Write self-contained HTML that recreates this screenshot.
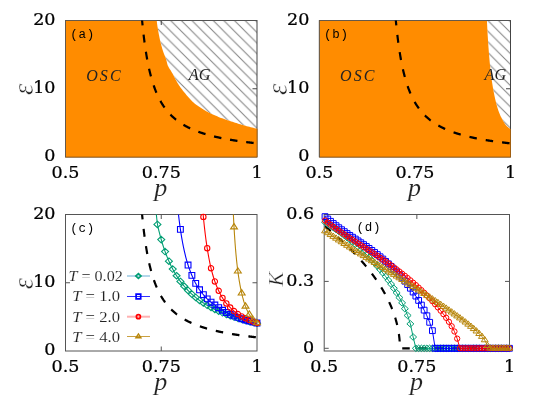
<!DOCTYPE html>
<html><head><meta charset="utf-8"><title>figure</title>
<style>html,body{margin:0;padding:0;background:#fff}svg{display:block}</style></head>
<body>
<svg width="545" height="399" viewBox="0 0 545 399">
<defs>
<clipPath id="ca"><rect x="65.5" y="20.5" width="191.5" height="136.5"/></clipPath>
<clipPath id="cb"><rect x="319.4" y="20.5" width="191.10000000000002" height="136.5"/></clipPath>
<clipPath id="cc"><rect x="65.5" y="214.5" width="191.5" height="136.5"/></clipPath>
<clipPath id="cd"><rect x="324.2" y="214.5" width="185.3" height="136.5"/></clipPath>
<pattern id="hatcha" patternUnits="userSpaceOnUse" width="10.63" height="10.63" x="1.31" y="0"><path d="M-1 -1 L11.63 11.63 M-11.63 -1 L1 11.63 M9.63 -1 L22.26 11.63" stroke="#858585" stroke-width="1.05" fill="none"/></pattern>
<pattern id="hatchb" patternUnits="userSpaceOnUse" width="10.63" height="10.63" x="10.21" y="0"><path d="M-1 -1 L11.63 11.63 M-11.63 -1 L1 11.63 M9.63 -1 L22.26 11.63" stroke="#858585" stroke-width="1.05" fill="none"/></pattern>
</defs>
<rect width="545" height="399" fill="#fff"/>
<rect x="65.5" y="20.5" width="191.5" height="136.5" fill="#fff"/>
<path d="M156.70 20.50 L156.85 21.85 L157.02 23.20 L157.20 24.55 L157.39 25.90 L157.59 27.24 L157.81 28.58 L158.03 29.92 L158.26 31.25 L158.51 32.59 L158.76 33.92 L159.02 35.25 L159.28 36.57 L159.56 37.90 L159.83 39.22 L160.12 40.54 L160.42 41.86 L160.74 43.18 L161.08 44.49 L161.43 45.80 L161.80 47.11 L162.19 48.41 L162.58 49.71 L162.98 51.01 L163.40 52.29 L163.85 53.57 L164.34 54.83 L164.86 56.09 L165.36 57.35 L165.84 58.62 L166.27 59.90 L166.63 61.21 L166.93 62.55 L167.25 63.87 L167.65 65.14 L168.18 66.36 L168.81 67.55 L169.52 68.71 L170.26 69.87 L171.01 71.02 L171.72 72.19 L172.38 73.37 L173.03 74.57 L173.67 75.77 L174.29 76.98 L174.92 78.19 L175.56 79.39 L176.20 80.59 L176.85 81.77 L177.53 82.95 L178.22 84.10 L178.95 85.23 L179.70 86.34 L180.48 87.45 L181.28 88.54 L182.10 89.62 L182.93 90.70 L183.78 91.76 L184.65 92.82 L185.52 93.86 L186.41 94.89 L187.30 95.92 L188.20 96.93 L189.10 97.94 L190.02 98.94 L190.95 99.94 L191.89 100.92 L192.86 101.88 L193.85 102.81 L194.86 103.69 L195.91 104.52 L196.99 105.33 L198.09 106.10 L199.22 106.86 L200.37 107.60 L201.53 108.32 L202.69 109.03 L203.85 109.74 L205.01 110.45 L206.17 111.15 L207.35 111.82 L208.55 112.44 L209.76 113.05 L210.98 113.63 L212.21 114.21 L213.45 114.77 L214.70 115.32 L215.94 115.85 L217.20 116.37 L218.45 116.88 L219.71 117.39 L220.97 117.88 L222.24 118.36 L223.51 118.82 L224.79 119.28 L226.07 119.73 L227.35 120.17 L228.64 120.60 L229.93 121.03 L231.21 121.45 L232.50 121.87 L233.79 122.29 L235.08 122.70 L236.38 123.11 L237.67 123.51 L238.97 123.91 L240.26 124.30 L241.56 124.69 L242.87 125.07 L244.17 125.44 L245.47 125.80 L246.78 126.16 L248.09 126.51 L249.40 126.86 L250.71 127.20 L252.03 127.53 L253.34 127.86 L254.66 128.18 L255.98 128.49 L257.30 128.80 L257.00 20.50 Z" fill="url(#hatcha)" clip-path="url(#ca)"/>
<rect x="65.5" y="20.5" width="191.5" height="136.5" fill="none" stroke="#444" stroke-width="1"/>
<path d="M161.25 157.0 v-4.5 M161.25 20.5 v4.5 M65.5 88.75 h4.5 M257.0 88.75 h-4.5 " stroke="#444" stroke-width="1" fill="none"/>
<path d="M65.50 20.50 L156.70 20.50 L156.85 21.85 L157.02 23.20 L157.20 24.55 L157.39 25.90 L157.59 27.24 L157.81 28.58 L158.03 29.92 L158.26 31.25 L158.51 32.59 L158.76 33.92 L159.02 35.25 L159.28 36.57 L159.56 37.90 L159.83 39.22 L160.12 40.54 L160.42 41.86 L160.74 43.18 L161.08 44.49 L161.43 45.80 L161.80 47.11 L162.19 48.41 L162.58 49.71 L162.98 51.01 L163.40 52.29 L163.85 53.57 L164.34 54.83 L164.86 56.09 L165.36 57.35 L165.84 58.62 L166.27 59.90 L166.63 61.21 L166.93 62.55 L167.25 63.87 L167.65 65.14 L168.18 66.36 L168.81 67.55 L169.52 68.71 L170.26 69.87 L171.01 71.02 L171.72 72.19 L172.38 73.37 L173.03 74.57 L173.67 75.77 L174.29 76.98 L174.92 78.19 L175.56 79.39 L176.20 80.59 L176.85 81.77 L177.53 82.95 L178.22 84.10 L178.95 85.23 L179.70 86.34 L180.48 87.45 L181.28 88.54 L182.10 89.62 L182.93 90.70 L183.78 91.76 L184.65 92.82 L185.52 93.86 L186.41 94.89 L187.30 95.92 L188.20 96.93 L189.10 97.94 L190.02 98.94 L190.95 99.94 L191.89 100.92 L192.86 101.88 L193.85 102.81 L194.86 103.69 L195.91 104.52 L196.99 105.33 L198.09 106.10 L199.22 106.86 L200.37 107.60 L201.53 108.32 L202.69 109.03 L203.85 109.74 L205.01 110.45 L206.17 111.15 L207.35 111.82 L208.55 112.44 L209.76 113.05 L210.98 113.63 L212.21 114.21 L213.45 114.77 L214.70 115.32 L215.94 115.85 L217.20 116.37 L218.45 116.88 L219.71 117.39 L220.97 117.88 L222.24 118.36 L223.51 118.82 L224.79 119.28 L226.07 119.73 L227.35 120.17 L228.64 120.60 L229.93 121.03 L231.21 121.45 L232.50 121.87 L233.79 122.29 L235.08 122.70 L236.38 123.11 L237.67 123.51 L238.97 123.91 L240.26 124.30 L241.56 124.69 L242.87 125.07 L244.17 125.44 L245.47 125.80 L246.78 126.16 L248.09 126.51 L249.40 126.86 L250.71 127.20 L252.03 127.53 L253.34 127.86 L254.66 128.18 L255.98 128.49 L257.30 128.80 L257.30 128.80 L257.30 157.30 L65.50 157.30 Z" fill="#ff8c00"/>
<path d="M65.5 157.0 V20.5 H257.0" fill="none" stroke="#555" stroke-width="0.8"/>
<path d="M65.5 157.0 H257.0 V128.8" fill="none" stroke="#7a4a10" stroke-width="0.6"/>
<g clip-path="url(#ca)"><path transform="scale(1 1.06)" d="M141.91 17.38 L142.20 20.31 L142.49 23.11 L142.77 25.80 L143.06 28.37 L143.35 30.83 L143.64 33.19 L143.93 35.47 L144.22 37.65 L144.50 39.75 L144.79 41.77 L145.08 43.72 L145.37 45.60 L145.66 47.41 L145.95 49.16 L146.24 50.85 L146.52 52.48 L146.81 54.06 L147.10 55.58 L147.39 57.06 L147.68 58.49 L147.97 59.88 L148.25 61.23 L148.54 62.53 L148.83 63.80 L149.12 65.03 L149.41 66.22 L149.70 67.38 L149.99 68.51 L150.27 69.60 L150.56 70.67 L150.85 71.71 L151.14 72.72 L151.43 73.70 L151.72 74.66 L152.00 75.60 L152.29 76.51 L152.58 77.40 L152.87 78.26 L153.16 79.11 L153.45 79.93 L153.73 80.74 L154.02 81.53 L154.31 82.30 L154.60 83.05 L154.89 83.78 L155.18 84.50 L155.47 85.20 L155.75 85.89 L156.04 86.56 L156.33 87.22 L156.62 87.86 L156.91 88.49 L157.20 89.11 L157.48 89.71 L157.77 90.31 L158.06 90.89 L158.35 91.46 L158.64 92.01 L158.93 92.56 L159.22 93.10 L159.50 93.62 L159.79 94.14 L160.08 94.65 L160.37 95.14 L160.66 95.63 L160.95 96.11 L161.23 96.58 L161.52 97.04 L161.81 97.49 L162.10 97.94 L162.39 98.38 L162.68 98.81 L162.97 99.23 L163.25 99.65 L163.54 100.06 L163.83 100.46 L164.12 100.85 L164.41 101.24 L164.70 101.62 L164.98 102.00 L165.27 102.37 L165.56 102.73 L165.85 103.09 L166.14 103.45 L166.43 103.79 L166.72 104.13 L167.00 104.47 L167.29 104.80 L167.58 105.13 L167.87 105.45 L168.16 105.77 L168.45 106.08 L168.73 106.39 L169.02 106.69 L169.31 106.99 L169.60 107.28 L169.89 107.58 L170.18 107.86 L170.47 108.14 L170.75 108.42 L171.04 108.70 L171.33 108.97 L171.62 109.23 L171.91 109.50 L172.20 109.76 L172.48 110.01 L172.77 110.27 L173.06 110.52 L173.35 110.76 L173.64 111.01 L173.93 111.25 L174.21 111.48 L174.50 111.72 L174.79 111.95 L175.08 112.18 L175.37 112.40 L175.66 112.62 L175.95 112.84 L176.23 113.06 L176.52 113.27 L176.81 113.49 L177.10 113.70 L177.39 113.90 L177.68 114.11 L177.96 114.31 L178.25 114.51 L178.54 114.70 L178.83 114.90 L179.12 115.09 L179.41 115.28 L179.70 115.47 L179.98 115.66 L180.27 115.84 L180.56 116.02 L180.85 116.20 L181.14 116.38 L181.43 116.55 L181.71 116.73 L182.00 116.90 L182.29 117.07 L182.58 117.24 L182.87 117.40 L183.16 117.57 L183.45 117.73 L183.73 117.89 L184.02 118.05 L184.31 118.21 L184.60 118.37 L184.89 118.52 L185.18 118.67 L185.46 118.82 L185.75 118.97 L186.04 119.12 L186.33 119.27 L186.62 119.41 L186.91 119.56 L187.20 119.70 L187.48 119.84 L187.77 119.98 L188.06 120.12 L188.35 120.26 L188.64 120.39 L188.93 120.53 L189.21 120.66 L189.50 120.79 L189.79 120.92 L190.08 121.05 L190.37 121.18 L190.66 121.30 L190.94 121.43 L191.23 121.55 L191.52 121.68 L191.81 121.80 L192.10 121.92 L192.39 122.04 L192.68 122.16 L192.96 122.28 L193.25 122.39 L193.54 122.51 L193.83 122.62 L194.12 122.74 L194.41 122.85 L194.69 122.96 L194.98 123.07 L195.27 123.18 L195.56 123.29 L195.85 123.40 L196.14 123.50 L196.43 123.61 L196.71 123.71 L197.00 123.82 L197.29 123.92 L197.58 124.02 L197.87 124.13 L198.16 124.23 L198.44 124.33 L198.73 124.42 L199.02 124.52 L199.31 124.62 L199.60 124.72 L199.89 124.81 L200.18 124.91 L200.46 125.00 L200.75 125.09 L201.04 125.19 L201.33 125.28 L201.62 125.37 L201.91 125.46 L202.19 125.55 L202.48 125.64 L202.77 125.73 L203.06 125.81 L203.35 125.90 L203.64 125.99 L203.93 126.07 L204.21 126.16 L204.50 126.24 L204.79 126.33 L205.08 126.41 L205.37 126.49 L205.66 126.57 L205.94 126.65 L206.23 126.73 L206.52 126.81 L206.81 126.89 L207.10 126.97 L207.39 127.05 L207.68 127.13 L207.96 127.21 L208.25 127.28 L208.54 127.36 L208.83 127.43 L209.12 127.51 L209.41 127.58 L209.69 127.66 L209.98 127.73 L210.27 127.80 L210.56 127.87 L210.85 127.94 L211.14 128.02 L211.42 128.09 L211.71 128.16 L212.00 128.23 L212.29 128.30 L212.58 128.36 L212.87 128.43 L213.16 128.50 L213.44 128.57 L213.73 128.63 L214.02 128.70 L214.31 128.77 L214.60 128.83 L214.89 128.90 L215.17 128.96 L215.46 129.03 L215.75 129.09 L216.04 129.15 L216.33 129.22 L216.62 129.28 L216.91 129.34 L217.19 129.40 L217.48 129.46 L217.77 129.52 L218.06 129.58 L218.35 129.64 L218.64 129.70 L218.92 129.76 L219.21 129.82 L219.50 129.88 L219.79 129.94 L220.08 130.00 L220.37 130.05 L220.66 130.11 L220.94 130.17 L221.23 130.22 L221.52 130.28 L221.81 130.34 L222.10 130.39 L222.39 130.45 L222.67 130.50 L222.96 130.55 L223.25 130.61 L223.54 130.66 L223.83 130.72 L224.12 130.77 L224.41 130.82 L224.69 130.87 L224.98 130.93 L225.27 130.98 L225.56 131.03 L225.85 131.08 L226.14 131.13 L226.42 131.18 L226.71 131.23 L227.00 131.28 L227.29 131.33 L227.58 131.38 L227.87 131.43 L228.16 131.48 L228.44 131.53 L228.73 131.57 L229.02 131.62 L229.31 131.67 L229.60 131.72 L229.89 131.76 L230.17 131.81 L230.46 131.86 L230.75 131.90 L231.04 131.95 L231.33 131.99 L231.62 132.04 L231.90 132.09 L232.19 132.13 L232.48 132.17 L232.77 132.22 L233.06 132.26 L233.35 132.31 L233.64 132.35 L233.92 132.39 L234.21 132.44 L234.50 132.48 L234.79 132.52 L235.08 132.57 L235.37 132.61 L235.65 132.65 L235.94 132.69 L236.23 132.73 L236.52 132.78 L236.81 132.82 L237.10 132.86 L237.39 132.90 L237.67 132.94 L237.96 132.98 L238.25 133.02 L238.54 133.06 L238.83 133.10 L239.12 133.14 L239.40 133.18 L239.69 133.22 L239.98 133.26 L240.27 133.29 L240.56 133.33 L240.85 133.37 L241.14 133.41 L241.42 133.45 L241.71 133.48 L242.00 133.52 L242.29 133.56 L242.58 133.60 L242.87 133.63 L243.15 133.67 L243.44 133.71 L243.73 133.74 L244.02 133.78 L244.31 133.81 L244.60 133.85 L244.89 133.89 L245.17 133.92 L245.46 133.96 L245.75 133.99 L246.04 134.03 L246.33 134.06 L246.62 134.10 L246.90 134.13 L247.19 134.16 L247.48 134.20 L247.77 134.23 L248.06 134.27 L248.35 134.30 L248.63 134.33 L248.92 134.37 L249.21 134.40 L249.50 134.43 L249.79 134.46 L250.08 134.50 L250.37 134.53 L250.65 134.56 L250.94 134.59 L251.23 134.63 L251.52 134.66 L251.81 134.69 L252.10 134.72 L252.38 134.75 L252.67 134.78 L252.96 134.82 L253.25 134.85 L253.54 134.88 L253.83 134.91 L254.12 134.94 L254.40 134.97 L254.69 135.00 L254.98 135.03 L255.27 135.06 L255.56 135.09 L255.85 135.12 L256.13 135.15 L256.42 135.18 L256.71 135.21 L257.00 135.24" fill="none" stroke="#000" stroke-width="2.2" stroke-dasharray="7.5 8.8" stroke-dashoffset="0.9"/></g>
<rect x="319.4" y="20.5" width="191.10000000000002" height="136.5" fill="#fff"/>
<path d="M486.92 20.50 L487.32 28.48 L487.72 35.68 L488.12 42.04 L488.52 47.80 L488.92 53.04 L489.32 57.83 L489.72 62.22 L490.12 66.27 L490.52 70.01 L490.92 73.47 L491.31 76.69 L491.71 79.68 L492.11 82.48 L492.51 85.09 L492.91 87.54 L493.31 89.84 L493.71 92.01 L494.11 94.06 L494.51 96.00 L494.91 97.84 L495.31 99.59 L495.71 101.26 L496.11 102.87 L496.51 104.40 L496.91 105.86 L497.31 107.24 L497.71 108.55 L498.11 109.79 L498.51 110.96 L498.91 112.06 L499.31 113.10 L499.71 114.08 L500.11 115.01 L500.51 115.90 L500.91 116.75 L501.31 117.56 L501.71 118.34 L502.11 119.09 L502.51 119.81 L502.91 120.51 L503.31 121.20 L503.71 121.88 L504.10 122.54 L504.50 123.17 L504.90 123.78 L505.30 124.35 L505.70 124.89 L506.10 125.38 L506.50 125.84 L506.90 126.25 L507.30 126.63 L507.70 127.00 L508.10 127.34 L508.50 127.67 L508.90 127.98 L509.30 128.27 L509.70 128.54 L510.10 128.79 L510.50 129.02 L510.50 20.50 Z" fill="url(#hatchb)" clip-path="url(#cb)"/>
<rect x="319.4" y="20.5" width="191.10000000000002" height="136.5" fill="none" stroke="#444" stroke-width="1"/>
<path d="M414.95 157.0 v-4.5 M414.95 20.5 v4.5 M319.4 88.75 h4.5 M510.5 88.75 h-4.5 " stroke="#444" stroke-width="1" fill="none"/>
<path d="M319.40 20.50 L486.92 20.50 L487.32 28.48 L487.72 35.68 L488.12 42.04 L488.52 47.80 L488.92 53.04 L489.32 57.83 L489.72 62.22 L490.12 66.27 L490.52 70.01 L490.92 73.47 L491.31 76.69 L491.71 79.68 L492.11 82.48 L492.51 85.09 L492.91 87.54 L493.31 89.84 L493.71 92.01 L494.11 94.06 L494.51 96.00 L494.91 97.84 L495.31 99.59 L495.71 101.26 L496.11 102.87 L496.51 104.40 L496.91 105.86 L497.31 107.24 L497.71 108.55 L498.11 109.79 L498.51 110.96 L498.91 112.06 L499.31 113.10 L499.71 114.08 L500.11 115.01 L500.51 115.90 L500.91 116.75 L501.31 117.56 L501.71 118.34 L502.11 119.09 L502.51 119.81 L502.91 120.51 L503.31 121.20 L503.71 121.88 L504.10 122.54 L504.50 123.17 L504.90 123.78 L505.30 124.35 L505.70 124.89 L506.10 125.38 L506.50 125.84 L506.90 126.25 L507.30 126.63 L507.70 127.00 L508.10 127.34 L508.50 127.67 L508.90 127.98 L509.30 128.27 L509.70 128.54 L510.10 128.79 L510.50 129.02 L510.80 129.02 L510.80 157.30 L319.40 157.30 Z" fill="#ff8c00"/>
<path d="M319.4 157.0 V20.5 H510.5" fill="none" stroke="#555" stroke-width="0.8"/>
<path d="M319.4 157.0 H510.5 V129.0" fill="none" stroke="#7a4a10" stroke-width="0.6"/>
<g clip-path="url(#cb)"><path transform="scale(1 1.06)" d="M395.65 17.38 L395.94 20.31 L396.22 23.11 L396.51 25.80 L396.80 28.37 L397.09 30.83 L397.38 33.19 L397.66 35.47 L397.95 37.65 L398.24 39.75 L398.53 41.77 L398.82 43.72 L399.10 45.60 L399.39 47.41 L399.68 49.16 L399.97 50.85 L400.25 52.48 L400.54 54.06 L400.83 55.58 L401.12 57.06 L401.41 58.49 L401.69 59.88 L401.98 61.23 L402.27 62.53 L402.56 63.80 L402.85 65.03 L403.13 66.22 L403.42 67.38 L403.71 68.51 L404.00 69.60 L404.28 70.67 L404.57 71.71 L404.86 72.72 L405.15 73.70 L405.44 74.66 L405.72 75.60 L406.01 76.51 L406.30 77.40 L406.59 78.26 L406.87 79.11 L407.16 79.93 L407.45 80.74 L407.74 81.53 L408.03 82.30 L408.31 83.05 L408.60 83.78 L408.89 84.50 L409.18 85.20 L409.47 85.89 L409.75 86.56 L410.04 87.22 L410.33 87.86 L410.62 88.49 L410.90 89.11 L411.19 89.71 L411.48 90.31 L411.77 90.89 L412.06 91.46 L412.34 92.01 L412.63 92.56 L412.92 93.10 L413.21 93.62 L413.50 94.14 L413.78 94.65 L414.07 95.14 L414.36 95.63 L414.65 96.11 L414.93 96.58 L415.22 97.04 L415.51 97.49 L415.80 97.94 L416.09 98.38 L416.37 98.81 L416.66 99.23 L416.95 99.65 L417.24 100.06 L417.53 100.46 L417.81 100.85 L418.10 101.24 L418.39 101.62 L418.68 102.00 L418.96 102.37 L419.25 102.73 L419.54 103.09 L419.83 103.45 L420.12 103.79 L420.40 104.13 L420.69 104.47 L420.98 104.80 L421.27 105.13 L421.56 105.45 L421.84 105.77 L422.13 106.08 L422.42 106.39 L422.71 106.69 L422.99 106.99 L423.28 107.28 L423.57 107.58 L423.86 107.86 L424.15 108.14 L424.43 108.42 L424.72 108.70 L425.01 108.97 L425.30 109.23 L425.59 109.50 L425.87 109.76 L426.16 110.01 L426.45 110.27 L426.74 110.52 L427.02 110.76 L427.31 111.01 L427.60 111.25 L427.89 111.48 L428.18 111.72 L428.46 111.95 L428.75 112.18 L429.04 112.40 L429.33 112.62 L429.61 112.84 L429.90 113.06 L430.19 113.27 L430.48 113.49 L430.77 113.70 L431.05 113.90 L431.34 114.11 L431.63 114.31 L431.92 114.51 L432.21 114.70 L432.49 114.90 L432.78 115.09 L433.07 115.28 L433.36 115.47 L433.64 115.66 L433.93 115.84 L434.22 116.02 L434.51 116.20 L434.80 116.38 L435.08 116.55 L435.37 116.73 L435.66 116.90 L435.95 117.07 L436.24 117.24 L436.52 117.40 L436.81 117.57 L437.10 117.73 L437.39 117.89 L437.67 118.05 L437.96 118.21 L438.25 118.37 L438.54 118.52 L438.83 118.67 L439.11 118.82 L439.40 118.97 L439.69 119.12 L439.98 119.27 L440.27 119.41 L440.55 119.56 L440.84 119.70 L441.13 119.84 L441.42 119.98 L441.70 120.12 L441.99 120.26 L442.28 120.39 L442.57 120.53 L442.86 120.66 L443.14 120.79 L443.43 120.92 L443.72 121.05 L444.01 121.18 L444.30 121.30 L444.58 121.43 L444.87 121.55 L445.16 121.68 L445.45 121.80 L445.73 121.92 L446.02 122.04 L446.31 122.16 L446.60 122.28 L446.89 122.39 L447.17 122.51 L447.46 122.62 L447.75 122.74 L448.04 122.85 L448.32 122.96 L448.61 123.07 L448.90 123.18 L449.19 123.29 L449.48 123.40 L449.76 123.50 L450.05 123.61 L450.34 123.71 L450.63 123.82 L450.92 123.92 L451.20 124.02 L451.49 124.13 L451.78 124.23 L452.07 124.33 L452.35 124.42 L452.64 124.52 L452.93 124.62 L453.22 124.72 L453.51 124.81 L453.79 124.91 L454.08 125.00 L454.37 125.09 L454.66 125.19 L454.95 125.28 L455.23 125.37 L455.52 125.46 L455.81 125.55 L456.10 125.64 L456.38 125.73 L456.67 125.81 L456.96 125.90 L457.25 125.99 L457.54 126.07 L457.82 126.16 L458.11 126.24 L458.40 126.33 L458.69 126.41 L458.98 126.49 L459.26 126.57 L459.55 126.65 L459.84 126.73 L460.13 126.81 L460.41 126.89 L460.70 126.97 L460.99 127.05 L461.28 127.13 L461.57 127.21 L461.85 127.28 L462.14 127.36 L462.43 127.43 L462.72 127.51 L463.01 127.58 L463.29 127.66 L463.58 127.73 L463.87 127.80 L464.16 127.87 L464.44 127.94 L464.73 128.02 L465.02 128.09 L465.31 128.16 L465.60 128.23 L465.88 128.30 L466.17 128.36 L466.46 128.43 L466.75 128.50 L467.04 128.57 L467.32 128.63 L467.61 128.70 L467.90 128.77 L468.19 128.83 L468.47 128.90 L468.76 128.96 L469.05 129.03 L469.34 129.09 L469.63 129.15 L469.91 129.22 L470.20 129.28 L470.49 129.34 L470.78 129.40 L471.06 129.46 L471.35 129.52 L471.64 129.58 L471.93 129.64 L472.22 129.70 L472.50 129.76 L472.79 129.82 L473.08 129.88 L473.37 129.94 L473.66 130.00 L473.94 130.05 L474.23 130.11 L474.52 130.17 L474.81 130.22 L475.09 130.28 L475.38 130.34 L475.67 130.39 L475.96 130.45 L476.25 130.50 L476.53 130.55 L476.82 130.61 L477.11 130.66 L477.40 130.72 L477.69 130.77 L477.97 130.82 L478.26 130.87 L478.55 130.93 L478.84 130.98 L479.12 131.03 L479.41 131.08 L479.70 131.13 L479.99 131.18 L480.28 131.23 L480.56 131.28 L480.85 131.33 L481.14 131.38 L481.43 131.43 L481.72 131.48 L482.00 131.53 L482.29 131.57 L482.58 131.62 L482.87 131.67 L483.15 131.72 L483.44 131.76 L483.73 131.81 L484.02 131.86 L484.31 131.90 L484.59 131.95 L484.88 131.99 L485.17 132.04 L485.46 132.09 L485.75 132.13 L486.03 132.17 L486.32 132.22 L486.61 132.26 L486.90 132.31 L487.18 132.35 L487.47 132.39 L487.76 132.44 L488.05 132.48 L488.34 132.52 L488.62 132.57 L488.91 132.61 L489.20 132.65 L489.49 132.69 L489.77 132.73 L490.06 132.78 L490.35 132.82 L490.64 132.86 L490.93 132.90 L491.21 132.94 L491.50 132.98 L491.79 133.02 L492.08 133.06 L492.37 133.10 L492.65 133.14 L492.94 133.18 L493.23 133.22 L493.52 133.26 L493.80 133.29 L494.09 133.33 L494.38 133.37 L494.67 133.41 L494.96 133.45 L495.24 133.48 L495.53 133.52 L495.82 133.56 L496.11 133.60 L496.40 133.63 L496.68 133.67 L496.97 133.71 L497.26 133.74 L497.55 133.78 L497.83 133.81 L498.12 133.85 L498.41 133.89 L498.70 133.92 L498.99 133.96 L499.27 133.99 L499.56 134.03 L499.85 134.06 L500.14 134.10 L500.43 134.13 L500.71 134.16 L501.00 134.20 L501.29 134.23 L501.58 134.27 L501.86 134.30 L502.15 134.33 L502.44 134.37 L502.73 134.40 L503.02 134.43 L503.30 134.46 L503.59 134.50 L503.88 134.53 L504.17 134.56 L504.46 134.59 L504.74 134.63 L505.03 134.66 L505.32 134.69 L505.61 134.72 L505.89 134.75 L506.18 134.78 L506.47 134.82 L506.76 134.85 L507.05 134.88 L507.33 134.91 L507.62 134.94 L507.91 134.97 L508.20 135.00 L508.49 135.03 L508.77 135.06 L509.06 135.09 L509.35 135.12 L509.64 135.15 L509.92 135.18 L510.21 135.21 L510.50 135.24" fill="none" stroke="#000" stroke-width="2.2" stroke-dasharray="7.5 9.0" stroke-dashoffset="0.9"/></g>
<text x="70.2" y="37.5" font-family="Liberation Mono, monospace" font-size="12.5" textLength="24" lengthAdjust="spacing">(a)</text>
<text x="86.2" y="80.5" font-family="Liberation Serif, serif" font-style="italic" fill="#222" font-size="16" letter-spacing="2.1">OSC</text>
<text x="324.1" y="37.5" font-family="Liberation Mono, monospace" font-size="12.5" textLength="24" lengthAdjust="spacing">(b)</text>
<text x="340.1" y="80.5" font-family="Liberation Serif, serif" font-style="italic" fill="#222" font-size="16" letter-spacing="2.1">OSC</text>
<text x="188.8" y="80.4" font-family="Liberation Serif, serif" font-style="italic" fill="#222" font-size="16" textLength="21.7" lengthAdjust="spacingAndGlyphs">AG</text>
<text x="484.5" y="80.4" font-family="Liberation Serif, serif" font-style="italic" fill="#222" font-size="16" textLength="21.7" lengthAdjust="spacingAndGlyphs">AG</text>
<rect x="65.5" y="214.5" width="191.5" height="136.5" fill="none" stroke="#555" stroke-width="1"/>
<path d="M161.25 351.0 v-4.5 M161.25 214.5 v4.5 M65.5 282.75 h4.5 M257.0 282.75 h-4.5 " stroke="#555" stroke-width="1" fill="none"/>
<g clip-path="url(#cc)"><path transform="scale(1 1.06)" d="M141.91 200.40 L142.20 203.33 L142.49 206.13 L142.77 208.81 L143.06 211.38 L143.35 213.85 L143.64 216.21 L143.93 218.48 L144.22 220.67 L144.50 222.77 L144.79 224.79 L145.08 226.74 L145.37 228.62 L145.66 230.43 L145.95 232.18 L146.24 233.86 L146.52 235.50 L146.81 237.07 L147.10 238.60 L147.39 240.08 L147.68 241.51 L147.97 242.90 L148.25 244.24 L148.54 245.55 L148.83 246.82 L149.12 248.04 L149.41 249.24 L149.70 250.40 L149.99 251.53 L150.27 252.62 L150.56 253.69 L150.85 254.73 L151.14 255.74 L151.43 256.72 L151.72 257.68 L152.00 258.62 L152.29 259.53 L152.58 260.42 L152.87 261.28 L153.16 262.13 L153.45 262.95 L153.73 263.76 L154.02 264.55 L154.31 265.32 L154.60 266.07 L154.89 266.80 L155.18 267.52 L155.47 268.22 L155.75 268.91 L156.04 269.58 L156.33 270.24 L156.62 270.88 L156.91 271.51 L157.20 272.13 L157.48 272.73 L157.77 273.33 L158.06 273.91 L158.35 274.47 L158.64 275.03 L158.93 275.58 L159.22 276.12 L159.50 276.64 L159.79 277.16 L160.08 277.66 L160.37 278.16 L160.66 278.65 L160.95 279.13 L161.23 279.60 L161.52 280.06 L161.81 280.51 L162.10 280.96 L162.39 281.40 L162.68 281.83 L162.97 282.25 L163.25 282.67 L163.54 283.07 L163.83 283.48 L164.12 283.87 L164.41 284.26 L164.70 284.64 L164.98 285.02 L165.27 285.39 L165.56 285.75 L165.85 286.11 L166.14 286.46 L166.43 286.81 L166.72 287.15 L167.00 287.49 L167.29 287.82 L167.58 288.15 L167.87 288.47 L168.16 288.79 L168.45 289.10 L168.73 289.41 L169.02 289.71 L169.31 290.01 L169.60 290.30 L169.89 290.59 L170.18 290.88 L170.47 291.16 L170.75 291.44 L171.04 291.72 L171.33 291.99 L171.62 292.25 L171.91 292.52 L172.20 292.78 L172.48 293.03 L172.77 293.29 L173.06 293.54 L173.35 293.78 L173.64 294.03 L173.93 294.27 L174.21 294.50 L174.50 294.74 L174.79 294.97 L175.08 295.20 L175.37 295.42 L175.66 295.64 L175.95 295.86 L176.23 296.08 L176.52 296.29 L176.81 296.51 L177.10 296.71 L177.39 296.92 L177.68 297.12 L177.96 297.33 L178.25 297.53 L178.54 297.72 L178.83 297.92 L179.12 298.11 L179.41 298.30 L179.70 298.49 L179.98 298.67 L180.27 298.86 L180.56 299.04 L180.85 299.22 L181.14 299.40 L181.43 299.57 L181.71 299.75 L182.00 299.92 L182.29 300.09 L182.58 300.26 L182.87 300.42 L183.16 300.59 L183.45 300.75 L183.73 300.91 L184.02 301.07 L184.31 301.23 L184.60 301.38 L184.89 301.54 L185.18 301.69 L185.46 301.84 L185.75 301.99 L186.04 302.14 L186.33 302.29 L186.62 302.43 L186.91 302.58 L187.20 302.72 L187.48 302.86 L187.77 303.00 L188.06 303.14 L188.35 303.27 L188.64 303.41 L188.93 303.54 L189.21 303.68 L189.50 303.81 L189.79 303.94 L190.08 304.07 L190.37 304.20 L190.66 304.32 L190.94 304.45 L191.23 304.57 L191.52 304.70 L191.81 304.82 L192.10 304.94 L192.39 305.06 L192.68 305.18 L192.96 305.30 L193.25 305.41 L193.54 305.53 L193.83 305.64 L194.12 305.76 L194.41 305.87 L194.69 305.98 L194.98 306.09 L195.27 306.20 L195.56 306.31 L195.85 306.42 L196.14 306.52 L196.43 306.63 L196.71 306.73 L197.00 306.84 L197.29 306.94 L197.58 307.04 L197.87 307.14 L198.16 307.24 L198.44 307.34 L198.73 307.44 L199.02 307.54 L199.31 307.64 L199.60 307.73 L199.89 307.83 L200.18 307.93 L200.46 308.02 L200.75 308.11 L201.04 308.21 L201.33 308.30 L201.62 308.39 L201.91 308.48 L202.19 308.57 L202.48 308.66 L202.77 308.75 L203.06 308.83 L203.35 308.92 L203.64 309.01 L203.93 309.09 L204.21 309.18 L204.50 309.26 L204.79 309.34 L205.08 309.43 L205.37 309.51 L205.66 309.59 L205.94 309.67 L206.23 309.75 L206.52 309.83 L206.81 309.91 L207.10 309.99 L207.39 310.07 L207.68 310.15 L207.96 310.22 L208.25 310.30 L208.54 310.38 L208.83 310.45 L209.12 310.53 L209.41 310.60 L209.69 310.67 L209.98 310.75 L210.27 310.82 L210.56 310.89 L210.85 310.96 L211.14 311.03 L211.42 311.11 L211.71 311.18 L212.00 311.25 L212.29 311.31 L212.58 311.38 L212.87 311.45 L213.16 311.52 L213.44 311.59 L213.73 311.65 L214.02 311.72 L214.31 311.79 L214.60 311.85 L214.89 311.92 L215.17 311.98 L215.46 312.04 L215.75 312.11 L216.04 312.17 L216.33 312.23 L216.62 312.30 L216.91 312.36 L217.19 312.42 L217.48 312.48 L217.77 312.54 L218.06 312.60 L218.35 312.66 L218.64 312.72 L218.92 312.78 L219.21 312.84 L219.50 312.90 L219.79 312.96 L220.08 313.02 L220.37 313.07 L220.66 313.13 L220.94 313.19 L221.23 313.24 L221.52 313.30 L221.81 313.35 L222.10 313.41 L222.39 313.46 L222.67 313.52 L222.96 313.57 L223.25 313.63 L223.54 313.68 L223.83 313.73 L224.12 313.79 L224.41 313.84 L224.69 313.89 L224.98 313.94 L225.27 314.00 L225.56 314.05 L225.85 314.10 L226.14 314.15 L226.42 314.20 L226.71 314.25 L227.00 314.30 L227.29 314.35 L227.58 314.40 L227.87 314.45 L228.16 314.50 L228.44 314.54 L228.73 314.59 L229.02 314.64 L229.31 314.69 L229.60 314.74 L229.89 314.78 L230.17 314.83 L230.46 314.88 L230.75 314.92 L231.04 314.97 L231.33 315.01 L231.62 315.06 L231.90 315.10 L232.19 315.15 L232.48 315.19 L232.77 315.24 L233.06 315.28 L233.35 315.33 L233.64 315.37 L233.92 315.41 L234.21 315.46 L234.50 315.50 L234.79 315.54 L235.08 315.59 L235.37 315.63 L235.65 315.67 L235.94 315.71 L236.23 315.75 L236.52 315.79 L236.81 315.84 L237.10 315.88 L237.39 315.92 L237.67 315.96 L237.96 316.00 L238.25 316.04 L238.54 316.08 L238.83 316.12 L239.12 316.16 L239.40 316.20 L239.69 316.24 L239.98 316.27 L240.27 316.31 L240.56 316.35 L240.85 316.39 L241.14 316.43 L241.42 316.47 L241.71 316.50 L242.00 316.54 L242.29 316.58 L242.58 316.61 L242.87 316.65 L243.15 316.69 L243.44 316.72 L243.73 316.76 L244.02 316.80 L244.31 316.83 L244.60 316.87 L244.89 316.90 L245.17 316.94 L245.46 316.98 L245.75 317.01 L246.04 317.05 L246.33 317.08 L246.62 317.11 L246.90 317.15 L247.19 317.18 L247.48 317.22 L247.77 317.25 L248.06 317.28 L248.35 317.32 L248.63 317.35 L248.92 317.39 L249.21 317.42 L249.50 317.45 L249.79 317.48 L250.08 317.52 L250.37 317.55 L250.65 317.58 L250.94 317.61 L251.23 317.65 L251.52 317.68 L251.81 317.71 L252.10 317.74 L252.38 317.77 L252.67 317.80 L252.96 317.83 L253.25 317.87 L253.54 317.90 L253.83 317.93 L254.12 317.96 L254.40 317.99 L254.69 318.02 L254.98 318.05 L255.27 318.08 L255.56 318.11 L255.85 318.14 L256.13 318.17 L256.42 318.20 L256.71 318.23 L257.00 318.25" fill="none" stroke="#000" stroke-width="2.2" stroke-dasharray="7.5 9.0" stroke-dashoffset="0.9"/></g>
<path d="M153.59 180.47 L154.11 188.14 L154.63 195.15 L155.15 201.59 L155.67 207.51 L156.19 212.99 L156.71 218.06 L157.23 222.77 L157.75 225.88 L158.27 228.13 L158.79 230.30 L159.31 232.39 L159.83 234.41 L160.35 236.37 L160.87 238.26 L161.38 240.08 L161.90 241.85 L162.42 243.57 L162.94 245.23 L163.46 246.84 L163.98 248.40 L164.50 249.92 L165.02 251.39 L165.54 252.82 L166.06 254.21 L166.58 255.56 L167.10 256.87 L167.62 258.15 L168.14 259.39 L168.66 260.60 L169.18 261.78 L169.70 262.93 L170.22 264.05 L170.74 265.14 L171.26 266.20 L171.78 267.24 L172.30 268.26 L172.82 269.24 L173.34 270.21 L173.86 271.15 L174.38 272.07 L174.90 272.97 L175.42 273.85 L175.93 274.71 L176.45 275.56 L176.97 276.38 L177.49 277.18 L178.01 277.97 L178.53 278.74 L179.05 279.50 L179.57 280.24 L180.09 280.96 L180.61 281.67 L181.13 282.37 L181.65 283.05 L182.17 283.72 L182.69 284.37 L183.21 285.02 L183.73 285.65 L184.25 286.26 L184.77 286.87 L185.29 287.47 L185.81 288.05 L186.33 288.63 L186.85 289.19 L187.37 289.74 L187.89 290.29 L188.41 290.82 L188.93 291.34 L189.45 291.86 L189.97 292.37 L190.49 292.87 L191.00 293.36 L191.52 293.84 L192.04 294.31 L192.56 294.78 L193.08 295.24 L193.60 295.69 L194.12 296.13 L194.64 296.57 L195.16 297.00 L195.68 297.42 L196.20 297.84 L196.72 298.25 L197.24 298.65 L197.76 299.05 L198.28 299.44 L198.80 299.82 L199.32 300.20 L199.84 300.58 L200.36 300.95 L200.88 301.31 L201.40 301.67 L201.92 302.02 L202.44 302.37 L202.96 302.71 L203.48 303.05 L204.00 303.39 L204.52 303.71 L205.04 304.04 L205.55 304.36 L206.07 304.68 L206.59 304.99 L207.11 305.29 L207.63 305.60 L208.15 305.90 L208.67 306.19 L209.19 306.48 L209.71 306.77 L210.23 307.06 L210.75 307.34 L211.27 307.61 L211.79 307.89 L212.31 308.16 L212.83 308.42 L213.35 308.69 L213.87 308.95 L214.39 309.20 L214.91 309.46 L215.43 309.71 L215.95 309.96 L216.47 310.20 L216.99 310.44 L217.51 310.68 L218.03 310.92 L218.55 311.15 L219.07 311.38 L219.59 311.61 L220.10 311.84 L220.62 312.06 L221.14 312.28 L221.66 312.50 L222.18 312.71 L222.70 312.93 L223.22 313.14 L223.74 313.34 L224.26 313.55 L224.78 313.75 L225.30 313.96 L225.82 314.16 L226.34 314.35 L226.86 314.55 L227.38 314.74 L227.90 314.93 L228.42 315.12 L228.94 315.31 L229.46 315.49 L229.98 315.68 L230.50 315.86 L231.02 316.04 L231.54 316.22 L232.06 316.39 L232.58 316.57 L233.10 316.74 L233.62 316.91 L234.14 317.08 L234.66 317.25 L235.17 317.41 L235.69 317.58 L236.21 317.74 L236.73 317.90 L237.25 318.06 L237.77 318.22 L238.29 318.37 L238.81 318.53 L239.33 318.68 L239.85 318.83 L240.37 318.98 L240.89 319.13 L241.41 319.28 L241.93 319.43 L242.45 319.57 L242.97 319.72 L243.49 319.86 L244.01 320.00 L244.53 320.14 L245.05 320.28 L245.57 320.42 L246.09 320.55 L246.61 320.69 L247.13 320.82 L247.65 320.95 L248.17 321.08 L248.69 321.21 L249.21 321.34 L249.72 321.47 L250.24 321.60 L250.76 321.72 L251.28 321.85 L251.80 321.97 L252.32 322.10 L252.84 322.22 L253.36 322.34 L253.88 322.46 L254.40 322.58 L254.92 322.69 L255.44 322.81 L255.96 322.93 L256.48 323.04 L257.00 323.15" clip-path="url(#cc)" fill="none" stroke="#009e73" stroke-width="1.1"/>
<path d="M157.42 221.17l3.50 3.26l-3.50 3.26l-3.50 -3.26z M161.25 236.36l3.50 3.26l-3.50 3.26l-3.50 -3.26z M165.08 248.30l3.50 3.26l-3.50 3.26l-3.50 -3.26z M168.91 257.92l3.50 3.26l-3.50 3.26l-3.50 -3.26z M172.74 265.84l3.50 3.26l-3.50 3.26l-3.50 -3.26z M176.57 272.49l3.50 3.26l-3.50 3.26l-3.50 -3.26z M180.40 278.13l3.50 3.26l-3.50 3.26l-3.50 -3.26z M184.23 282.99l3.50 3.26l-3.50 3.26l-3.50 -3.26z M188.06 287.21l3.50 3.26l-3.50 3.26l-3.50 -3.26z M191.89 290.92l3.50 3.26l-3.50 3.26l-3.50 -3.26z M195.72 294.20l3.50 3.26l-3.50 3.26l-3.50 -3.26z M199.55 297.12l3.50 3.26l-3.50 3.26l-3.50 -3.26z M203.38 299.73l3.50 3.26l-3.50 3.26l-3.50 -3.26z M207.21 302.10l3.50 3.26l-3.50 3.26l-3.50 -3.26z M211.04 304.24l3.50 3.26l-3.50 3.26l-3.50 -3.26z M214.87 306.18l3.50 3.26l-3.50 3.26l-3.50 -3.26z M218.70 307.97l3.50 3.26l-3.50 3.26l-3.50 -3.26z M222.53 309.60l3.50 3.26l-3.50 3.26l-3.50 -3.26z M226.36 311.11l3.50 3.26l-3.50 3.26l-3.50 -3.26z M230.19 312.50l3.50 3.26l-3.50 3.26l-3.50 -3.26z M234.02 313.79l3.50 3.26l-3.50 3.26l-3.50 -3.26z M237.85 314.99l3.50 3.26l-3.50 3.26l-3.50 -3.26z M241.68 316.10l3.50 3.26l-3.50 3.26l-3.50 -3.26z M245.51 317.15l3.50 3.26l-3.50 3.26l-3.50 -3.26z M249.34 318.12l3.50 3.26l-3.50 3.26l-3.50 -3.26z M253.17 319.04l3.50 3.26l-3.50 3.26l-3.50 -3.26z M257.00 319.90l3.50 3.26l-3.50 3.26l-3.50 -3.26z " fill="none" stroke="#009e73" stroke-width="1.1"/>
<path d="M174.66 170.21 L175.07 176.33 L175.48 182.04 L175.90 187.39 L176.31 192.42 L176.72 197.14 L177.14 201.59 L177.55 205.79 L177.97 209.77 L178.38 213.53 L178.79 217.09 L179.21 220.48 L179.62 223.69 L180.03 226.76 L180.45 229.67 L180.86 232.44 L181.28 235.07 L181.69 237.58 L182.10 239.96 L182.52 242.24 L182.93 244.41 L183.34 246.49 L183.76 248.48 L184.17 250.38 L184.59 252.21 L185.00 253.96 L185.41 255.65 L185.83 257.27 L186.24 258.83 L186.66 260.33 L187.07 261.78 L187.48 263.17 L187.90 264.52 L188.31 265.82 L188.72 267.07 L189.14 268.27 L189.55 269.43 L189.97 270.55 L190.38 271.63 L190.79 272.69 L191.21 273.71 L191.62 274.72 L192.03 275.70 L192.45 276.65 L192.86 277.59 L193.28 278.50 L193.69 279.39 L194.10 280.25 L194.52 281.10 L194.93 281.92 L195.34 282.72 L195.76 283.49 L196.17 284.26 L196.59 285.00 L197.00 285.73 L197.41 286.44 L197.83 287.13 L198.24 287.81 L198.66 288.46 L199.07 289.09 L199.48 289.71 L199.90 290.30 L200.31 290.87 L200.72 291.43 L201.14 291.97 L201.55 292.49 L201.97 293.01 L202.38 293.51 L202.79 294.01 L203.21 294.50 L203.62 294.98 L204.03 295.46 L204.45 295.93 L204.86 296.39 L205.28 296.84 L205.69 297.28 L206.10 297.72 L206.52 298.14 L206.93 298.56 L207.34 298.96 L207.76 299.35 L208.17 299.74 L208.59 300.12 L209.00 300.49 L209.41 300.86 L209.83 301.21 L210.24 301.56 L210.66 301.90 L211.07 302.24 L211.48 302.56 L211.90 302.87 L212.31 303.17 L212.72 303.47 L213.14 303.76 L213.55 304.05 L213.97 304.34 L214.38 304.64 L214.79 304.93 L215.21 305.23 L215.62 305.52 L216.03 305.82 L216.45 306.12 L216.86 306.42 L217.28 306.71 L217.69 307.01 L218.10 307.30 L218.52 307.59 L218.93 307.88 L219.34 308.16 L219.76 308.44 L220.17 308.72 L220.59 309.00 L221.00 309.27 L221.41 309.54 L221.83 309.81 L222.24 310.07 L222.66 310.33 L223.07 310.59 L223.48 310.84 L223.90 311.08 L224.31 311.32 L224.72 311.56 L225.14 311.79 L225.55 312.01 L225.97 312.24 L226.38 312.45 L226.79 312.66 L227.21 312.87 L227.62 313.08 L228.03 313.28 L228.45 313.48 L228.86 313.68 L229.28 313.87 L229.69 314.06 L230.10 314.25 L230.52 314.43 L230.93 314.62 L231.34 314.80 L231.76 314.97 L232.17 315.15 L232.59 315.32 L233.00 315.50 L233.41 315.67 L233.83 315.83 L234.24 316.00 L234.66 316.16 L235.07 316.33 L235.48 316.49 L235.90 316.65 L236.31 316.80 L236.72 316.96 L237.14 317.11 L237.55 317.27 L237.97 317.42 L238.38 317.57 L238.79 317.72 L239.21 317.87 L239.62 318.01 L240.03 318.15 L240.45 318.30 L240.86 318.44 L241.28 318.58 L241.69 318.72 L242.10 318.85 L242.52 318.99 L242.93 319.12 L243.34 319.25 L243.76 319.39 L244.17 319.52 L244.59 319.64 L245.00 319.77 L245.41 319.90 L245.83 320.02 L246.24 320.15 L246.66 320.27 L247.07 320.39 L247.48 320.52 L247.90 320.64 L248.31 320.76 L248.72 320.87 L249.14 320.99 L249.55 321.11 L249.97 321.22 L250.38 321.34 L250.79 321.45 L251.21 321.56 L251.62 321.68 L252.03 321.79 L252.45 321.90 L252.86 322.00 L253.28 322.11 L253.69 322.22 L254.10 322.33 L254.52 322.43 L254.93 322.54 L255.34 322.64 L255.76 322.74 L256.17 322.84 L256.59 322.94 L257.00 323.05" clip-path="url(#cc)" fill="none" stroke="#0000ff" stroke-width="1.1"/>
<path d="M177.50 226.44h5.8v5.8h-5.8z M185.16 262.14h5.8v5.8h-5.8z M188.99 272.46h5.8v5.8h-5.8z M192.82 280.52h5.8v5.8h-5.8z M196.65 286.90h5.8v5.8h-5.8z M200.48 291.80h5.8v5.8h-5.8z M204.31 295.93h5.8v5.8h-5.8z M208.14 299.31h5.8v5.8h-5.8z M211.97 302.08h5.8v5.8h-5.8z M215.80 304.82h5.8v5.8h-5.8z M219.63 307.35h5.8v5.8h-5.8z M223.46 309.54h5.8v5.8h-5.8z M227.29 311.39h5.8v5.8h-5.8z M231.12 313.01h5.8v5.8h-5.8z M234.95 314.48h5.8v5.8h-5.8z M238.78 315.81h5.8v5.8h-5.8z M242.61 317.03h5.8v5.8h-5.8z M246.44 318.15h5.8v5.8h-5.8z M250.27 319.19h5.8v5.8h-5.8z M254.10 320.15h5.8v5.8h-5.8z " fill="none" stroke="#0000ff" stroke-width="1.1"/>
<path d="M199.55 153.89 L199.84 160.63 L200.13 166.93 L200.42 172.83 L200.70 178.36 L200.99 183.55 L201.28 188.44 L201.57 193.06 L201.86 197.42 L202.15 201.54 L202.44 205.45 L202.73 209.17 L203.01 212.69 L203.30 216.05 L203.59 219.10 L203.88 221.97 L204.17 224.73 L204.46 227.38 L204.75 229.93 L205.04 232.38 L205.32 234.73 L205.61 237.01 L205.90 239.20 L206.19 241.31 L206.48 243.35 L206.77 245.32 L207.06 247.22 L207.34 249.07 L207.63 250.85 L207.92 252.59 L208.21 254.27 L208.50 255.90 L208.79 257.48 L209.08 259.01 L209.37 260.50 L209.65 261.93 L209.94 263.32 L210.23 264.66 L210.52 265.96 L210.81 267.22 L211.10 268.44 L211.39 269.61 L211.68 270.76 L211.96 271.87 L212.25 272.95 L212.54 274.00 L212.83 275.02 L213.12 276.01 L213.41 276.97 L213.70 277.91 L213.98 278.82 L214.27 279.71 L214.56 280.57 L214.85 281.41 L215.14 282.22 L215.43 283.01 L215.72 283.79 L216.01 284.54 L216.29 285.27 L216.58 285.99 L216.87 286.68 L217.16 287.37 L217.45 288.04 L217.74 288.69 L218.03 289.33 L218.32 289.96 L218.60 290.58 L218.89 291.19 L219.18 291.79 L219.47 292.37 L219.76 292.95 L220.05 293.51 L220.34 294.07 L220.62 294.61 L220.91 295.14 L221.20 295.66 L221.49 296.17 L221.78 296.68 L222.07 297.17 L222.36 297.65 L222.65 298.12 L222.93 298.58 L223.22 299.03 L223.51 299.48 L223.80 299.92 L224.09 300.35 L224.38 300.77 L224.67 301.18 L224.96 301.59 L225.24 301.98 L225.53 302.37 L225.82 302.75 L226.11 303.11 L226.40 303.47 L226.69 303.82 L226.98 304.16 L227.26 304.49 L227.55 304.82 L227.84 305.13 L228.13 305.44 L228.42 305.75 L228.71 306.05 L229.00 306.35 L229.29 306.64 L229.57 306.93 L229.86 307.22 L230.15 307.51 L230.44 307.79 L230.73 308.08 L231.02 308.36 L231.31 308.63 L231.59 308.91 L231.88 309.18 L232.17 309.45 L232.46 309.71 L232.75 309.97 L233.04 310.23 L233.33 310.48 L233.62 310.73 L233.90 310.97 L234.19 311.21 L234.48 311.45 L234.77 311.69 L235.06 311.92 L235.35 312.15 L235.64 312.38 L235.93 312.60 L236.21 312.82 L236.50 313.04 L236.79 313.25 L237.08 313.46 L237.37 313.66 L237.66 313.87 L237.95 314.06 L238.23 314.25 L238.52 314.44 L238.81 314.63 L239.10 314.81 L239.39 314.99 L239.68 315.17 L239.97 315.35 L240.26 315.52 L240.54 315.69 L240.83 315.86 L241.12 316.02 L241.41 316.19 L241.70 316.35 L241.99 316.51 L242.28 316.66 L242.57 316.82 L242.85 316.97 L243.14 317.12 L243.43 317.27 L243.72 317.42 L244.01 317.56 L244.30 317.71 L244.59 317.85 L244.87 317.99 L245.16 318.14 L245.45 318.28 L245.74 318.42 L246.03 318.56 L246.32 318.70 L246.61 318.84 L246.90 318.98 L247.18 319.12 L247.47 319.26 L247.76 319.40 L248.05 319.53 L248.34 319.67 L248.63 319.80 L248.92 319.92 L249.21 320.05 L249.49 320.17 L249.78 320.29 L250.07 320.41 L250.36 320.53 L250.65 320.65 L250.94 320.76 L251.23 320.87 L251.51 320.98 L251.80 321.09 L252.09 321.20 L252.38 321.31 L252.67 321.42 L252.96 321.53 L253.25 321.64 L253.54 321.74 L253.82 321.85 L254.11 321.96 L254.40 322.06 L254.69 322.17 L254.98 322.27 L255.27 322.37 L255.56 322.48 L255.85 322.58 L256.13 322.68 L256.42 322.78 L256.71 322.88 L257.00 322.98" clip-path="url(#cc)" fill="none" stroke="#ff0000" stroke-width="1.1"/>
<path d="M200.73 216.91a2.65 2.65 0 1 0 5.3 0a2.65 2.65 0 1 0 -5.3 0z M204.56 248.21a2.65 2.65 0 1 0 5.3 0a2.65 2.65 0 1 0 -5.3 0z M208.39 268.20a2.65 2.65 0 1 0 5.3 0a2.65 2.65 0 1 0 -5.3 0z M212.22 281.46a2.65 2.65 0 1 0 5.3 0a2.65 2.65 0 1 0 -5.3 0z M216.05 290.78a2.65 2.65 0 1 0 5.3 0a2.65 2.65 0 1 0 -5.3 0z M219.88 297.93a2.65 2.65 0 1 0 5.3 0a2.65 2.65 0 1 0 -5.3 0z M223.71 303.43a2.65 2.65 0 1 0 5.3 0a2.65 2.65 0 1 0 -5.3 0z M227.54 307.55a2.65 2.65 0 1 0 5.3 0a2.65 2.65 0 1 0 -5.3 0z M231.37 311.07a2.65 2.65 0 1 0 5.3 0a2.65 2.65 0 1 0 -5.3 0z M235.20 314.00a2.65 2.65 0 1 0 5.3 0a2.65 2.65 0 1 0 -5.3 0z M239.03 316.34a2.65 2.65 0 1 0 5.3 0a2.65 2.65 0 1 0 -5.3 0z M242.86 318.31a2.65 2.65 0 1 0 5.3 0a2.65 2.65 0 1 0 -5.3 0z M246.69 320.11a2.65 2.65 0 1 0 5.3 0a2.65 2.65 0 1 0 -5.3 0z M250.52 321.61a2.65 2.65 0 1 0 5.3 0a2.65 2.65 0 1 0 -5.3 0z M254.35 322.98a2.65 2.65 0 1 0 5.3 0a2.65 2.65 0 1 0 -5.3 0z " fill="none" stroke="#ff0000" stroke-width="1.1"/>
<path d="M230.19 73.56 L230.32 85.16 L230.46 95.82 L230.59 105.66 L230.73 114.77 L230.86 123.23 L231.00 131.10 L231.13 138.45 L231.27 145.32 L231.40 151.76 L231.54 157.81 L231.67 163.51 L231.81 168.88 L231.94 173.94 L232.08 178.74 L232.21 183.28 L232.35 187.59 L232.48 191.68 L232.62 195.57 L232.75 199.28 L232.88 202.81 L233.02 206.19 L233.15 209.41 L233.29 212.49 L233.42 215.45 L233.56 218.27 L233.69 220.99 L233.83 223.59 L233.96 226.09 L234.10 228.46 L234.23 230.71 L234.37 232.88 L234.50 234.98 L234.64 237.02 L234.77 238.98 L234.91 240.89 L235.04 242.73 L235.17 244.52 L235.31 246.26 L235.44 247.94 L235.58 249.57 L235.71 251.16 L235.85 252.69 L235.98 254.19 L236.12 255.64 L236.25 257.06 L236.39 258.43 L236.52 259.77 L236.66 261.08 L236.79 262.35 L236.93 263.58 L237.06 264.79 L237.20 265.96 L237.33 267.11 L237.47 268.22 L237.60 269.31 L237.73 270.38 L237.87 271.42 L238.00 272.43 L238.14 273.42 L238.27 274.39 L238.41 275.33 L238.54 276.25 L238.68 277.16 L238.81 278.04 L238.95 278.90 L239.08 279.75 L239.22 280.58 L239.35 281.39 L239.49 282.18 L239.62 282.96 L239.76 283.72 L239.89 284.47 L240.02 285.20 L240.16 285.92 L240.29 286.62 L240.43 287.31 L240.56 287.99 L240.70 288.66 L240.83 289.31 L240.97 289.95 L241.10 290.58 L241.24 291.20 L241.37 291.81 L241.51 292.41 L241.64 292.99 L241.78 293.57 L241.91 294.14 L242.05 294.71 L242.18 295.26 L242.32 295.81 L242.45 296.35 L242.58 296.88 L242.72 297.40 L242.85 297.92 L242.99 298.43 L243.12 298.92 L243.26 299.41 L243.39 299.89 L243.53 300.37 L243.66 300.83 L243.80 301.29 L243.93 301.74 L244.07 302.18 L244.20 302.61 L244.34 303.03 L244.47 303.45 L244.61 303.86 L244.74 304.26 L244.87 304.65 L245.01 305.03 L245.14 305.41 L245.28 305.78 L245.41 306.14 L245.55 306.49 L245.68 306.84 L245.82 307.18 L245.95 307.51 L246.09 307.84 L246.22 308.16 L246.36 308.48 L246.49 308.79 L246.63 309.10 L246.76 309.40 L246.90 309.70 L247.03 309.99 L247.17 310.28 L247.30 310.56 L247.43 310.84 L247.57 311.12 L247.70 311.39 L247.84 311.66 L247.97 311.92 L248.11 312.19 L248.24 312.44 L248.38 312.70 L248.51 312.95 L248.65 313.20 L248.78 313.44 L248.92 313.68 L249.05 313.92 L249.19 314.16 L249.32 314.39 L249.46 314.62 L249.59 314.85 L249.72 315.09 L249.86 315.32 L249.99 315.54 L250.13 315.77 L250.26 316.00 L250.40 316.22 L250.53 316.44 L250.67 316.66 L250.80 316.87 L250.94 317.09 L251.07 317.30 L251.21 317.50 L251.34 317.70 L251.48 317.90 L251.61 318.10 L251.75 318.29 L251.88 318.47 L252.02 318.66 L252.15 318.83 L252.28 319.01 L252.42 319.17 L252.55 319.34 L252.69 319.50 L252.82 319.65 L252.96 319.80 L253.09 319.94 L253.23 320.08 L253.36 320.21 L253.50 320.35 L253.63 320.48 L253.77 320.60 L253.90 320.73 L254.04 320.85 L254.17 320.98 L254.31 321.09 L254.44 321.21 L254.57 321.33 L254.71 321.44 L254.84 321.55 L254.98 321.66 L255.11 321.76 L255.25 321.87 L255.38 321.97 L255.52 322.07 L255.65 322.16 L255.79 322.26 L255.92 322.35 L256.06 322.44 L256.19 322.53 L256.33 322.62 L256.46 322.70 L256.60 322.78 L256.73 322.86 L256.87 322.94 L257.00 323.02" clip-path="url(#cc)" fill="none" stroke="#b8860b" stroke-width="1.1"/>
<path d="M234.02 223.59l3.45 5.31h-6.9z M237.85 267.73l3.45 5.31h-6.9z M241.68 289.62l3.45 5.31h-6.9z M245.51 302.85l3.45 5.31h-6.9z M249.34 310.88l3.45 5.31h-6.9z M253.17 316.48l3.45 5.31h-6.9z M257.00 319.48l3.45 5.31h-6.9z " fill="none" stroke="#b8860b" stroke-width="1.1"/>
<text x="70.2" y="231.5" font-family="Liberation Mono, monospace" font-size="12.5" textLength="24" lengthAdjust="spacing">(c)</text>
<text x="68.4" y="281.0" font-family="Liberation Serif, serif" font-style="italic" fill="#222" font-size="15" stroke="#fff" stroke-width="0.1" textLength="54.4" lengthAdjust="spacingAndGlyphs" style="white-space:pre"><tspan>T</tspan><tspan font-style="normal"> = 0.02</tspan></text>
<path d="M127 276.0 H150" stroke="#b3d6ea" stroke-width="2.0" fill="none"/>
<path d="M138.40 273.58l2.60 2.42l-2.60 2.42l-2.60 -2.42z " fill="none" stroke="#009e73" stroke-width="1.7"/>
<text x="72.2" y="301.2" font-family="Liberation Serif, serif" font-style="italic" fill="#222" font-size="15" stroke="#fff" stroke-width="0.1" textLength="47.8" lengthAdjust="spacingAndGlyphs" style="white-space:pre"><tspan>T</tspan><tspan font-style="normal"> = 1.0</tspan></text>
<path d="M127 296.5 H150" stroke="#3030ff" stroke-width="1.0" fill="none"/>
<path d="M136.10 294.20h4.6v4.6h-4.6z " fill="none" stroke="#0000ff" stroke-width="1.7"/>
<text x="72.2" y="321.5" font-family="Liberation Serif, serif" font-style="italic" fill="#222" font-size="15" stroke="#fff" stroke-width="0.1" textLength="47.8" lengthAdjust="spacingAndGlyphs" style="white-space:pre"><tspan>T</tspan><tspan font-style="normal"> = 2.0</tspan></text>
<path d="M127 316.7 H150" stroke="#ffb0b0" stroke-width="2.0" fill="none"/>
<path d="M136.40 316.70a2.0 2.0 0 1 0 4.0 0a2.0 2.0 0 1 0 -4.0 0z " fill="none" stroke="#ff0000" stroke-width="1.7"/>
<text x="72.2" y="341.8" font-family="Liberation Serif, serif" font-style="italic" fill="#222" font-size="15" stroke="#fff" stroke-width="0.1" textLength="47.8" lengthAdjust="spacingAndGlyphs" style="white-space:pre"><tspan>T</tspan><tspan font-style="normal"> = 4.0</tspan></text>
<path d="M127 336.5 H150" stroke="#c9a040" stroke-width="1.0" fill="none"/>
<path d="M138.40 333.93l2.50 3.85h-5.0z " fill="none" stroke="#b8860b" stroke-width="1.4"/>
<rect x="324.2" y="214.5" width="185.3" height="136.5" fill="none" stroke="#555" stroke-width="1"/>
<path d="M416.85 351.0 v-4.5 M416.85 214.5 v4.5 M324.2 348.30 h4.5 M509.5 348.30 h-4.5 M324.2 281.40 h4.5 M509.5 281.40 h-4.5 " stroke="#555" stroke-width="1" fill="none"/>
<path d="M324.20 225.68 L324.45 225.88 L324.71 226.09 L324.96 226.29 L325.21 226.50 L325.47 226.71 L325.72 226.91 L325.97 227.12 L326.23 227.33 L326.48 227.54 L326.73 227.75 L326.99 227.95 L327.24 228.16 L327.49 228.37 L327.75 228.58 L328.00 228.79 L328.25 229.00 L328.50 229.21 L328.76 229.43 L329.01 229.64 L329.26 229.85 L329.52 230.06 L329.77 230.27 L330.02 230.49 L330.28 230.70 L330.53 230.92 L330.78 231.13 L331.04 231.35 L331.29 231.56 L331.54 231.78 L331.80 231.99 L332.05 232.21 L332.30 232.42 L332.56 232.64 L332.81 232.86 L333.06 233.08 L333.32 233.30 L333.57 233.52 L333.82 233.73 L334.08 233.95 L334.33 234.17 L334.58 234.39 L334.84 234.62 L335.09 234.84 L335.34 235.06 L335.60 235.28 L335.85 235.50 L336.10 235.73 L336.35 235.95 L336.61 236.17 L336.86 236.40 L337.11 236.62 L337.37 236.85 L337.62 237.08 L337.87 237.30 L338.13 237.53 L338.38 237.76 L338.63 237.98 L338.89 238.21 L339.14 238.44 L339.39 238.67 L339.65 238.90 L339.90 239.13 L340.15 239.36 L340.41 239.59 L340.66 239.82 L340.91 240.05 L341.17 240.29 L341.42 240.52 L341.67 240.75 L341.93 240.99 L342.18 241.22 L342.43 241.46 L342.69 241.69 L342.94 241.93 L343.19 242.17 L343.44 242.40 L343.70 242.64 L343.95 242.88 L344.20 243.12 L344.46 243.36 L344.71 243.60 L344.96 243.84 L345.22 244.08 L345.47 244.32 L345.72 244.56 L345.98 244.80 L346.23 245.05 L346.48 245.29 L346.74 245.54 L346.99 245.78 L347.24 246.03 L347.50 246.27 L347.75 246.52 L348.00 246.77 L348.26 247.01 L348.51 247.26 L348.76 247.51 L349.02 247.76 L349.27 248.01 L349.52 248.26 L349.78 248.51 L350.03 248.77 L350.28 249.02 L350.54 249.27 L350.79 249.53 L351.04 249.78 L351.29 250.04 L351.55 250.29 L351.80 250.55 L352.05 250.81 L352.31 251.07 L352.56 251.33 L352.81 251.59 L353.07 251.85 L353.32 252.11 L353.57 252.37 L353.83 252.63 L354.08 252.89 L354.33 253.16 L354.59 253.42 L354.84 253.69 L355.09 253.95 L355.35 254.22 L355.60 254.49 L355.85 254.76 L356.11 255.03 L356.36 255.30 L356.61 255.57 L356.87 255.84 L357.12 256.11 L357.37 256.38 L357.63 256.66 L357.88 256.93 L358.13 257.21 L358.39 257.49 L358.64 257.76 L358.89 258.04 L359.14 258.32 L359.40 258.60 L359.65 258.88 L359.90 259.16 L360.16 259.44 L360.41 259.73 L360.66 260.01 L360.92 260.30 L361.17 260.58 L361.42 260.87 L361.68 261.16 L361.93 261.45 L362.18 261.74 L362.44 262.03 L362.69 262.32 L362.94 262.61 L363.20 262.91 L363.45 263.20 L363.70 263.50 L363.96 263.80 L364.21 264.09 L364.46 264.39 L364.72 264.69 L364.97 264.99 L365.22 265.30 L365.48 265.60 L365.73 265.90 L365.98 266.21 L366.23 266.52 L366.49 266.83 L366.74 267.13 L366.99 267.45 L367.25 267.76 L367.50 268.07 L367.75 268.38 L368.01 268.70 L368.26 269.02 L368.51 269.33 L368.77 269.65 L369.02 269.97 L369.27 270.29 L369.53 270.62 L369.78 270.94 L370.03 271.27 L370.29 271.59 L370.54 271.92 L370.79 272.25 L371.05 272.58 L371.30 272.92 L371.55 273.25 L371.81 273.59 L372.06 273.92 L372.31 274.26 L372.57 274.60 L372.82 274.95 L373.07 275.29 L373.33 275.63 L373.58 275.98 L373.83 276.33 L374.08 276.68 L374.34 277.03 L374.59 277.39 L374.84 277.74 L375.10 278.10 L375.35 278.46 L375.60 278.82 L375.86 279.18 L376.11 279.55 L376.36 279.91 L376.62 280.28 L376.87 280.65 L377.12 281.02 L377.38 281.40 L377.63 281.78 L377.88 282.16 L378.14 282.54 L378.39 282.92 L378.64 283.31 L378.90 283.69 L379.15 284.08 L379.40 284.48 L379.66 284.87 L379.91 285.27 L380.16 285.67 L380.42 286.07 L380.67 286.48 L380.92 286.89 L381.18 287.30 L381.43 287.71 L381.68 288.13 L381.93 288.55 L382.19 288.97 L382.44 289.39 L382.69 289.82 L382.95 290.25 L383.20 290.69 L383.45 291.13 L383.71 291.57 L383.96 292.01 L384.21 292.46 L384.47 292.91 L384.72 293.37 L384.97 293.83 L385.23 294.29 L385.48 294.76 L385.73 295.23 L385.99 295.71 L386.24 296.19 L386.49 296.67 L386.75 297.16 L387.00 297.66 L387.25 298.16 L387.51 298.66 L387.76 299.17 L388.01 299.68 L388.27 300.20 L388.52 300.73 L388.77 301.26 L389.03 301.80 L389.28 302.34 L389.53 302.89 L389.78 303.45 L390.04 304.01 L390.29 304.59 L390.54 305.16 L390.80 305.75 L391.05 306.35 L391.30 306.95 L391.56 307.56 L391.81 308.18 L392.06 308.82 L392.32 309.46 L392.57 310.11 L392.82 310.78 L393.08 311.45 L393.33 312.14 L393.58 312.84 L393.84 313.56 L394.09 314.29 L394.34 315.04 L394.60 315.80 L394.85 316.59 L395.10 317.39 L395.36 318.21 L395.61 319.06 L395.86 319.93 L396.12 320.83 L396.37 321.77 L396.62 322.73 L396.87 323.73 L397.13 324.78 L397.38 325.87 L397.63 327.03 L397.89 328.24 L398.14 329.54 L398.39 330.93 L398.65 332.44 L398.90 334.12 L399.15 336.02 L399.41 338.27 L399.66 341.21 L399.91 348.30 L399.91 348.30 L412.09 348.30 L424.27 348.30 L436.44 348.30 L448.62 348.30 L460.79 348.30 L472.97 348.30 L485.15 348.30 L497.32 348.30 L509.50 348.30" clip-path="url(#cd)" fill="none" stroke="#000" stroke-width="2.2" stroke-dasharray="7.5 9.2" stroke-dashoffset="15.7"/>
<path d="M325.02 222.26 L327.77 223.99 L330.52 225.77 L333.28 227.60 L336.03 229.47 L338.78 231.40 L341.54 233.39 L344.29 235.44 L347.04 237.55 L349.80 239.73 L352.55 241.99 L355.30 244.31 L358.06 246.72 L360.81 249.21 L363.56 251.79 L366.32 254.47 L369.07 257.25 L371.82 260.13 L374.58 263.13 L377.33 266.24 L380.09 269.50 L382.84 272.90 L385.59 276.46 L388.35 280.20 L391.10 284.14 L393.85 288.32 L396.61 292.78 L399.36 297.59 L402.11 302.84 L404.87 308.69 L407.62 315.46 L410.37 323.85 L413.13 337.01 L415.88 348.30 L418.63 348.30 L421.39 348.30 L424.14 348.30 L426.89 348.30 L429.65 348.30 L432.40 348.30 L435.16 348.30 L437.91 348.30 L440.66 348.30 L443.42 348.30 L446.17 348.30 L448.92 348.30 L451.68 348.30 L454.43 348.30 L457.18 348.30 L459.94 348.30 L462.69 348.30 L465.44 348.30 L468.20 348.30 L470.95 348.30 L473.70 348.30 L476.46 348.30 L479.21 348.30 L481.96 348.30 L484.72 348.30 L487.47 348.30 L490.23 348.30 L492.98 348.30 L495.73 348.30 L498.49 348.30 L501.24 348.30 L503.99 348.30 L506.75 348.30 L509.50 348.30" fill="none" stroke="#009e73" stroke-width="1.0"/>
<path d="M325.02 219.01l3.50 3.26l-3.50 3.26l-3.50 -3.26z M327.77 220.74l3.50 3.26l-3.50 3.26l-3.50 -3.26z M330.52 222.52l3.50 3.26l-3.50 3.26l-3.50 -3.26z M333.28 224.34l3.50 3.26l-3.50 3.26l-3.50 -3.26z M336.03 226.22l3.50 3.26l-3.50 3.26l-3.50 -3.26z M338.78 228.15l3.50 3.26l-3.50 3.26l-3.50 -3.26z M341.54 230.14l3.50 3.26l-3.50 3.26l-3.50 -3.26z M344.29 232.18l3.50 3.26l-3.50 3.26l-3.50 -3.26z M347.04 234.30l3.50 3.26l-3.50 3.26l-3.50 -3.26z M349.80 236.48l3.50 3.26l-3.50 3.26l-3.50 -3.26z M352.55 238.73l3.50 3.26l-3.50 3.26l-3.50 -3.26z M355.30 241.06l3.50 3.26l-3.50 3.26l-3.50 -3.26z M358.06 243.47l3.50 3.26l-3.50 3.26l-3.50 -3.26z M360.81 245.96l3.50 3.26l-3.50 3.26l-3.50 -3.26z M363.56 248.54l3.50 3.26l-3.50 3.26l-3.50 -3.26z M366.32 251.22l3.50 3.26l-3.50 3.26l-3.50 -3.26z M369.07 253.99l3.50 3.26l-3.50 3.26l-3.50 -3.26z M371.82 256.87l3.50 3.26l-3.50 3.26l-3.50 -3.26z M374.58 259.87l3.50 3.26l-3.50 3.26l-3.50 -3.26z M377.33 262.99l3.50 3.26l-3.50 3.26l-3.50 -3.26z M380.09 266.24l3.50 3.26l-3.50 3.26l-3.50 -3.26z M382.84 269.64l3.50 3.26l-3.50 3.26l-3.50 -3.26z M385.59 273.20l3.50 3.26l-3.50 3.26l-3.50 -3.26z M388.35 276.94l3.50 3.26l-3.50 3.26l-3.50 -3.26z M391.10 280.88l3.50 3.26l-3.50 3.26l-3.50 -3.26z M393.85 285.07l3.50 3.26l-3.50 3.26l-3.50 -3.26z M396.61 289.53l3.50 3.26l-3.50 3.26l-3.50 -3.26z M399.36 294.33l3.50 3.26l-3.50 3.26l-3.50 -3.26z M402.11 299.59l3.50 3.26l-3.50 3.26l-3.50 -3.26z M404.87 305.44l3.50 3.26l-3.50 3.26l-3.50 -3.26z M407.62 312.20l3.50 3.26l-3.50 3.26l-3.50 -3.26z M410.37 320.60l3.50 3.26l-3.50 3.26l-3.50 -3.26z M413.13 333.76l3.50 3.26l-3.50 3.26l-3.50 -3.26z M415.88 345.05l3.50 3.26l-3.50 3.26l-3.50 -3.26z M418.63 345.05l3.50 3.26l-3.50 3.26l-3.50 -3.26z M421.39 345.05l3.50 3.26l-3.50 3.26l-3.50 -3.26z M424.14 345.05l3.50 3.26l-3.50 3.26l-3.50 -3.26z M426.89 345.05l3.50 3.26l-3.50 3.26l-3.50 -3.26z M429.65 345.05l3.50 3.26l-3.50 3.26l-3.50 -3.26z M432.40 345.05l3.50 3.26l-3.50 3.26l-3.50 -3.26z M435.16 345.05l3.50 3.26l-3.50 3.26l-3.50 -3.26z M437.91 345.05l3.50 3.26l-3.50 3.26l-3.50 -3.26z M440.66 345.05l3.50 3.26l-3.50 3.26l-3.50 -3.26z M443.42 345.05l3.50 3.26l-3.50 3.26l-3.50 -3.26z M446.17 345.05l3.50 3.26l-3.50 3.26l-3.50 -3.26z M448.92 345.05l3.50 3.26l-3.50 3.26l-3.50 -3.26z M451.68 345.05l3.50 3.26l-3.50 3.26l-3.50 -3.26z M454.43 345.05l3.50 3.26l-3.50 3.26l-3.50 -3.26z M457.18 345.05l3.50 3.26l-3.50 3.26l-3.50 -3.26z M459.94 345.05l3.50 3.26l-3.50 3.26l-3.50 -3.26z M462.69 345.05l3.50 3.26l-3.50 3.26l-3.50 -3.26z M465.44 345.05l3.50 3.26l-3.50 3.26l-3.50 -3.26z M468.20 345.05l3.50 3.26l-3.50 3.26l-3.50 -3.26z M470.95 345.05l3.50 3.26l-3.50 3.26l-3.50 -3.26z M473.70 345.05l3.50 3.26l-3.50 3.26l-3.50 -3.26z M476.46 345.05l3.50 3.26l-3.50 3.26l-3.50 -3.26z M479.21 345.05l3.50 3.26l-3.50 3.26l-3.50 -3.26z M481.96 345.05l3.50 3.26l-3.50 3.26l-3.50 -3.26z M484.72 345.05l3.50 3.26l-3.50 3.26l-3.50 -3.26z M487.47 345.05l3.50 3.26l-3.50 3.26l-3.50 -3.26z M490.23 345.05l3.50 3.26l-3.50 3.26l-3.50 -3.26z M492.98 345.05l3.50 3.26l-3.50 3.26l-3.50 -3.26z M495.73 345.05l3.50 3.26l-3.50 3.26l-3.50 -3.26z M498.49 345.05l3.50 3.26l-3.50 3.26l-3.50 -3.26z M501.24 345.05l3.50 3.26l-3.50 3.26l-3.50 -3.26z M503.99 345.05l3.50 3.26l-3.50 3.26l-3.50 -3.26z M506.75 345.05l3.50 3.26l-3.50 3.26l-3.50 -3.26z M509.50 345.05l3.50 3.26l-3.50 3.26l-3.50 -3.26z " fill="none" stroke="#009e73" stroke-width="1.0"/>
<path d="M325.02 216.59 L327.77 219.01 L330.52 221.32 L333.28 223.53 L336.03 225.66 L338.78 227.71 L341.54 229.69 L344.29 231.62 L347.04 233.51 L349.80 235.37 L352.55 237.22 L355.30 239.05 L358.06 240.88 L360.81 242.73 L363.56 244.60 L366.32 246.49 L369.07 248.43 L371.82 250.42 L374.58 252.46 L377.33 254.57 L380.09 256.76 L382.84 259.03 L385.59 261.39 L388.35 263.85 L391.10 266.42 L393.85 269.10 L396.61 271.91 L399.36 274.86 L402.11 277.95 L404.87 281.20 L407.62 284.62 L410.37 288.23 L413.13 292.04 L415.88 296.09 L418.63 300.41 L421.39 305.06 L424.14 310.13 L426.89 315.77 L429.65 322.31 L432.40 330.65 L435.16 348.30 L437.91 348.30 L440.66 348.30 L443.42 348.30 L446.17 348.30 L448.92 348.30 L451.68 348.30 L454.43 348.30 L457.18 348.30 L459.94 348.30 L462.69 348.30 L465.44 348.30 L468.20 348.30 L470.95 348.30 L473.70 348.30 L476.46 348.30 L479.21 348.30 L481.96 348.30 L484.72 348.30 L487.47 348.30 L490.23 348.30 L492.98 348.30 L495.73 348.30 L498.49 348.30 L501.24 348.30 L503.99 348.30 L506.75 348.30 L509.50 348.30" fill="none" stroke="#0000ff" stroke-width="1.0"/>
<path d="M322.12 213.69h5.8v5.8h-5.8z M324.87 216.11h5.8v5.8h-5.8z M327.62 218.42h5.8v5.8h-5.8z M330.38 220.63h5.8v5.8h-5.8z M333.13 222.76h5.8v5.8h-5.8z M335.88 224.81h5.8v5.8h-5.8z M338.64 226.79h5.8v5.8h-5.8z M341.39 228.72h5.8v5.8h-5.8z M344.14 230.61h5.8v5.8h-5.8z M346.90 232.47h5.8v5.8h-5.8z M349.65 234.32h5.8v5.8h-5.8z M352.40 236.15h5.8v5.8h-5.8z M355.16 237.98h5.8v5.8h-5.8z M357.91 239.83h5.8v5.8h-5.8z M360.66 241.70h5.8v5.8h-5.8z M363.42 243.59h5.8v5.8h-5.8z M366.17 245.53h5.8v5.8h-5.8z M368.92 247.52h5.8v5.8h-5.8z M371.68 249.56h5.8v5.8h-5.8z M374.43 251.67h5.8v5.8h-5.8z M377.19 253.86h5.8v5.8h-5.8z M379.94 256.13h5.8v5.8h-5.8z M382.69 258.49h5.8v5.8h-5.8z M385.45 260.95h5.8v5.8h-5.8z M388.20 263.52h5.8v5.8h-5.8z M390.95 266.20h5.8v5.8h-5.8z M393.71 269.01h5.8v5.8h-5.8z M396.46 271.96h5.8v5.8h-5.8z M399.21 275.05h5.8v5.8h-5.8z M401.97 278.30h5.8v5.8h-5.8z M404.72 281.72h5.8v5.8h-5.8z M407.47 285.33h5.8v5.8h-5.8z M410.23 289.14h5.8v5.8h-5.8z M412.98 293.19h5.8v5.8h-5.8z M415.73 297.51h5.8v5.8h-5.8z M418.49 302.16h5.8v5.8h-5.8z M421.24 307.23h5.8v5.8h-5.8z M423.99 312.87h5.8v5.8h-5.8z M426.75 319.41h5.8v5.8h-5.8z M429.50 327.75h5.8v5.8h-5.8z M432.26 345.40h5.8v5.8h-5.8z M435.01 345.40h5.8v5.8h-5.8z M437.76 345.40h5.8v5.8h-5.8z M440.52 345.40h5.8v5.8h-5.8z M443.27 345.40h5.8v5.8h-5.8z M446.02 345.40h5.8v5.8h-5.8z M448.78 345.40h5.8v5.8h-5.8z M451.53 345.40h5.8v5.8h-5.8z M454.28 345.40h5.8v5.8h-5.8z M457.04 345.40h5.8v5.8h-5.8z M459.79 345.40h5.8v5.8h-5.8z M462.54 345.40h5.8v5.8h-5.8z M465.30 345.40h5.8v5.8h-5.8z M468.05 345.40h5.8v5.8h-5.8z M470.80 345.40h5.8v5.8h-5.8z M473.56 345.40h5.8v5.8h-5.8z M476.31 345.40h5.8v5.8h-5.8z M479.06 345.40h5.8v5.8h-5.8z M481.82 345.40h5.8v5.8h-5.8z M484.57 345.40h5.8v5.8h-5.8z M487.33 345.40h5.8v5.8h-5.8z M490.08 345.40h5.8v5.8h-5.8z M492.83 345.40h5.8v5.8h-5.8z M495.59 345.40h5.8v5.8h-5.8z M498.34 345.40h5.8v5.8h-5.8z M501.09 345.40h5.8v5.8h-5.8z M503.85 345.40h5.8v5.8h-5.8z M506.60 345.40h5.8v5.8h-5.8z " fill="none" stroke="#0000ff" stroke-width="1.0"/>
<path d="M325.02 220.53 L327.77 222.65 L330.52 224.71 L333.28 226.72 L336.03 228.69 L338.78 230.61 L341.54 232.50 L344.29 234.37 L347.04 236.20 L349.80 238.02 L352.55 239.81 L355.30 241.60 L358.06 243.37 L360.81 245.14 L363.56 246.91 L366.32 248.69 L369.07 250.47 L371.82 252.26 L374.58 254.07 L377.33 255.89 L380.09 257.73 L382.84 259.60 L385.59 261.50 L388.35 263.43 L391.10 265.40 L393.85 267.40 L396.61 269.44 L399.36 271.53 L402.11 273.66 L404.87 275.84 L407.62 278.08 L410.37 280.37 L413.13 282.73 L415.88 285.14 L418.63 287.62 L421.39 290.18 L424.14 292.81 L426.89 295.52 L429.65 298.33 L432.40 301.23 L435.16 304.24 L437.91 307.38 L440.66 310.67 L443.42 314.13 L446.17 317.82 L448.92 321.81 L451.68 326.25 L454.43 331.48 L457.18 338.64 L459.94 348.30 L462.69 348.30 L465.44 348.30 L468.20 348.30 L470.95 348.30 L473.70 348.30 L476.46 348.30 L479.21 348.30 L481.96 348.30 L484.72 348.30 L487.47 348.30 L490.23 348.30 L492.98 348.30 L495.73 348.30 L498.49 348.30 L501.24 348.30 L503.99 348.30 L506.75 348.30 L509.50 348.30" fill="none" stroke="#ff0000" stroke-width="1.0"/>
<path d="M322.37 220.53a2.65 2.65 0 1 0 5.3 0a2.65 2.65 0 1 0 -5.3 0z M325.12 222.65a2.65 2.65 0 1 0 5.3 0a2.65 2.65 0 1 0 -5.3 0z M327.87 224.71a2.65 2.65 0 1 0 5.3 0a2.65 2.65 0 1 0 -5.3 0z M330.63 226.72a2.65 2.65 0 1 0 5.3 0a2.65 2.65 0 1 0 -5.3 0z M333.38 228.69a2.65 2.65 0 1 0 5.3 0a2.65 2.65 0 1 0 -5.3 0z M336.13 230.61a2.65 2.65 0 1 0 5.3 0a2.65 2.65 0 1 0 -5.3 0z M338.89 232.50a2.65 2.65 0 1 0 5.3 0a2.65 2.65 0 1 0 -5.3 0z M341.64 234.37a2.65 2.65 0 1 0 5.3 0a2.65 2.65 0 1 0 -5.3 0z M344.39 236.20a2.65 2.65 0 1 0 5.3 0a2.65 2.65 0 1 0 -5.3 0z M347.15 238.02a2.65 2.65 0 1 0 5.3 0a2.65 2.65 0 1 0 -5.3 0z M349.90 239.81a2.65 2.65 0 1 0 5.3 0a2.65 2.65 0 1 0 -5.3 0z M352.65 241.60a2.65 2.65 0 1 0 5.3 0a2.65 2.65 0 1 0 -5.3 0z M355.41 243.37a2.65 2.65 0 1 0 5.3 0a2.65 2.65 0 1 0 -5.3 0z M358.16 245.14a2.65 2.65 0 1 0 5.3 0a2.65 2.65 0 1 0 -5.3 0z M360.91 246.91a2.65 2.65 0 1 0 5.3 0a2.65 2.65 0 1 0 -5.3 0z M363.67 248.69a2.65 2.65 0 1 0 5.3 0a2.65 2.65 0 1 0 -5.3 0z M366.42 250.47a2.65 2.65 0 1 0 5.3 0a2.65 2.65 0 1 0 -5.3 0z M369.17 252.26a2.65 2.65 0 1 0 5.3 0a2.65 2.65 0 1 0 -5.3 0z M371.93 254.07a2.65 2.65 0 1 0 5.3 0a2.65 2.65 0 1 0 -5.3 0z M374.68 255.89a2.65 2.65 0 1 0 5.3 0a2.65 2.65 0 1 0 -5.3 0z M377.44 257.73a2.65 2.65 0 1 0 5.3 0a2.65 2.65 0 1 0 -5.3 0z M380.19 259.60a2.65 2.65 0 1 0 5.3 0a2.65 2.65 0 1 0 -5.3 0z M382.94 261.50a2.65 2.65 0 1 0 5.3 0a2.65 2.65 0 1 0 -5.3 0z M385.70 263.43a2.65 2.65 0 1 0 5.3 0a2.65 2.65 0 1 0 -5.3 0z M388.45 265.40a2.65 2.65 0 1 0 5.3 0a2.65 2.65 0 1 0 -5.3 0z M391.20 267.40a2.65 2.65 0 1 0 5.3 0a2.65 2.65 0 1 0 -5.3 0z M393.96 269.44a2.65 2.65 0 1 0 5.3 0a2.65 2.65 0 1 0 -5.3 0z M396.71 271.53a2.65 2.65 0 1 0 5.3 0a2.65 2.65 0 1 0 -5.3 0z M399.46 273.66a2.65 2.65 0 1 0 5.3 0a2.65 2.65 0 1 0 -5.3 0z M402.22 275.84a2.65 2.65 0 1 0 5.3 0a2.65 2.65 0 1 0 -5.3 0z M404.97 278.08a2.65 2.65 0 1 0 5.3 0a2.65 2.65 0 1 0 -5.3 0z M407.72 280.37a2.65 2.65 0 1 0 5.3 0a2.65 2.65 0 1 0 -5.3 0z M410.48 282.73a2.65 2.65 0 1 0 5.3 0a2.65 2.65 0 1 0 -5.3 0z M413.23 285.14a2.65 2.65 0 1 0 5.3 0a2.65 2.65 0 1 0 -5.3 0z M415.98 287.62a2.65 2.65 0 1 0 5.3 0a2.65 2.65 0 1 0 -5.3 0z M418.74 290.18a2.65 2.65 0 1 0 5.3 0a2.65 2.65 0 1 0 -5.3 0z M421.49 292.81a2.65 2.65 0 1 0 5.3 0a2.65 2.65 0 1 0 -5.3 0z M424.24 295.52a2.65 2.65 0 1 0 5.3 0a2.65 2.65 0 1 0 -5.3 0z M427.00 298.33a2.65 2.65 0 1 0 5.3 0a2.65 2.65 0 1 0 -5.3 0z M429.75 301.23a2.65 2.65 0 1 0 5.3 0a2.65 2.65 0 1 0 -5.3 0z M432.51 304.24a2.65 2.65 0 1 0 5.3 0a2.65 2.65 0 1 0 -5.3 0z M435.26 307.38a2.65 2.65 0 1 0 5.3 0a2.65 2.65 0 1 0 -5.3 0z M438.01 310.67a2.65 2.65 0 1 0 5.3 0a2.65 2.65 0 1 0 -5.3 0z M440.77 314.13a2.65 2.65 0 1 0 5.3 0a2.65 2.65 0 1 0 -5.3 0z M443.52 317.82a2.65 2.65 0 1 0 5.3 0a2.65 2.65 0 1 0 -5.3 0z M446.27 321.81a2.65 2.65 0 1 0 5.3 0a2.65 2.65 0 1 0 -5.3 0z M449.03 326.25a2.65 2.65 0 1 0 5.3 0a2.65 2.65 0 1 0 -5.3 0z M451.78 331.48a2.65 2.65 0 1 0 5.3 0a2.65 2.65 0 1 0 -5.3 0z M454.53 338.64a2.65 2.65 0 1 0 5.3 0a2.65 2.65 0 1 0 -5.3 0z M457.29 348.30a2.65 2.65 0 1 0 5.3 0a2.65 2.65 0 1 0 -5.3 0z M460.04 348.30a2.65 2.65 0 1 0 5.3 0a2.65 2.65 0 1 0 -5.3 0z M462.79 348.30a2.65 2.65 0 1 0 5.3 0a2.65 2.65 0 1 0 -5.3 0z M465.55 348.30a2.65 2.65 0 1 0 5.3 0a2.65 2.65 0 1 0 -5.3 0z M468.30 348.30a2.65 2.65 0 1 0 5.3 0a2.65 2.65 0 1 0 -5.3 0z M471.05 348.30a2.65 2.65 0 1 0 5.3 0a2.65 2.65 0 1 0 -5.3 0z M473.81 348.30a2.65 2.65 0 1 0 5.3 0a2.65 2.65 0 1 0 -5.3 0z M476.56 348.30a2.65 2.65 0 1 0 5.3 0a2.65 2.65 0 1 0 -5.3 0z M479.31 348.30a2.65 2.65 0 1 0 5.3 0a2.65 2.65 0 1 0 -5.3 0z M482.07 348.30a2.65 2.65 0 1 0 5.3 0a2.65 2.65 0 1 0 -5.3 0z M484.82 348.30a2.65 2.65 0 1 0 5.3 0a2.65 2.65 0 1 0 -5.3 0z M487.58 348.30a2.65 2.65 0 1 0 5.3 0a2.65 2.65 0 1 0 -5.3 0z M490.33 348.30a2.65 2.65 0 1 0 5.3 0a2.65 2.65 0 1 0 -5.3 0z M493.08 348.30a2.65 2.65 0 1 0 5.3 0a2.65 2.65 0 1 0 -5.3 0z M495.84 348.30a2.65 2.65 0 1 0 5.3 0a2.65 2.65 0 1 0 -5.3 0z M498.59 348.30a2.65 2.65 0 1 0 5.3 0a2.65 2.65 0 1 0 -5.3 0z M501.34 348.30a2.65 2.65 0 1 0 5.3 0a2.65 2.65 0 1 0 -5.3 0z M504.10 348.30a2.65 2.65 0 1 0 5.3 0a2.65 2.65 0 1 0 -5.3 0z M506.85 348.30a2.65 2.65 0 1 0 5.3 0a2.65 2.65 0 1 0 -5.3 0z " fill="none" stroke="#ff0000" stroke-width="1.0"/>
<path d="M325.02 231.09 L327.77 232.94 L330.52 234.78 L333.28 236.60 L336.03 238.41 L338.78 240.20 L341.54 241.98 L344.29 243.75 L347.04 245.51 L349.80 247.26 L352.55 248.99 L355.30 250.72 L358.06 252.45 L360.81 254.16 L363.56 255.88 L366.32 257.58 L369.07 259.29 L371.82 260.99 L374.58 262.69 L377.33 264.39 L380.09 266.09 L382.84 267.78 L385.59 269.48 L388.35 271.18 L391.10 272.89 L393.85 274.59 L396.61 276.30 L399.36 278.02 L402.11 279.74 L404.87 281.46 L407.62 283.20 L410.37 284.93 L413.13 286.68 L415.88 288.43 L418.63 290.19 L421.39 291.96 L424.14 293.74 L426.89 295.53 L429.65 297.34 L432.40 299.15 L435.16 300.97 L437.91 302.81 L440.66 304.66 L443.42 306.53 L446.17 308.41 L448.92 310.31 L451.68 312.23 L454.43 314.18 L457.18 316.14 L459.94 318.14 L462.69 320.17 L465.44 322.24 L468.20 324.36 L470.95 326.55 L473.70 328.82 L476.46 331.20 L479.21 333.76 L481.96 336.60 L484.72 340.02 L487.47 345.73 L490.23 348.30 L492.98 348.30 L495.73 348.30 L498.49 348.30 L501.24 348.30 L503.99 348.30 L506.75 348.30 L509.50 348.30" fill="none" stroke="#b8860b" stroke-width="1.0"/>
<path d="M325.02 227.54l3.45 5.31h-6.9z M327.77 229.40l3.45 5.31h-6.9z M330.52 231.24l3.45 5.31h-6.9z M333.28 233.06l3.45 5.31h-6.9z M336.03 234.87l3.45 5.31h-6.9z M338.78 236.66l3.45 5.31h-6.9z M341.54 238.44l3.45 5.31h-6.9z M344.29 240.21l3.45 5.31h-6.9z M347.04 241.97l3.45 5.31h-6.9z M349.80 243.71l3.45 5.31h-6.9z M352.55 245.45l3.45 5.31h-6.9z M355.30 247.18l3.45 5.31h-6.9z M358.06 248.91l3.45 5.31h-6.9z M360.81 250.62l3.45 5.31h-6.9z M363.56 252.33l3.45 5.31h-6.9z M366.32 254.04l3.45 5.31h-6.9z M369.07 255.75l3.45 5.31h-6.9z M371.82 257.45l3.45 5.31h-6.9z M374.58 259.15l3.45 5.31h-6.9z M377.33 260.85l3.45 5.31h-6.9z M380.09 262.54l3.45 5.31h-6.9z M382.84 264.24l3.45 5.31h-6.9z M385.59 265.94l3.45 5.31h-6.9z M388.35 267.64l3.45 5.31h-6.9z M391.10 269.35l3.45 5.31h-6.9z M393.85 271.05l3.45 5.31h-6.9z M396.61 272.76l3.45 5.31h-6.9z M399.36 274.48l3.45 5.31h-6.9z M402.11 276.20l3.45 5.31h-6.9z M404.87 277.92l3.45 5.31h-6.9z M407.62 279.65l3.45 5.31h-6.9z M410.37 281.39l3.45 5.31h-6.9z M413.13 283.14l3.45 5.31h-6.9z M415.88 284.89l3.45 5.31h-6.9z M418.63 286.65l3.45 5.31h-6.9z M421.39 288.42l3.45 5.31h-6.9z M424.14 290.20l3.45 5.31h-6.9z M426.89 291.99l3.45 5.31h-6.9z M429.65 293.79l3.45 5.31h-6.9z M432.40 295.61l3.45 5.31h-6.9z M435.16 297.43l3.45 5.31h-6.9z M437.91 299.27l3.45 5.31h-6.9z M440.66 301.12l3.45 5.31h-6.9z M443.42 302.99l3.45 5.31h-6.9z M446.17 304.87l3.45 5.31h-6.9z M448.92 306.77l3.45 5.31h-6.9z M451.68 308.69l3.45 5.31h-6.9z M454.43 310.63l3.45 5.31h-6.9z M457.18 312.60l3.45 5.31h-6.9z M459.94 314.60l3.45 5.31h-6.9z M462.69 316.63l3.45 5.31h-6.9z M465.44 318.70l3.45 5.31h-6.9z M468.20 320.82l3.45 5.31h-6.9z M470.95 323.01l3.45 5.31h-6.9z M473.70 325.27l3.45 5.31h-6.9z M476.46 327.66l3.45 5.31h-6.9z M479.21 330.22l3.45 5.31h-6.9z M481.96 333.06l3.45 5.31h-6.9z M484.72 336.48l3.45 5.31h-6.9z M487.47 342.19l3.45 5.31h-6.9z M490.23 344.76l3.45 5.31h-6.9z M492.98 344.76l3.45 5.31h-6.9z M495.73 344.76l3.45 5.31h-6.9z M498.49 344.76l3.45 5.31h-6.9z M501.24 344.76l3.45 5.31h-6.9z M503.99 344.76l3.45 5.31h-6.9z M506.75 344.76l3.45 5.31h-6.9z M509.50 344.76l3.45 5.31h-6.9z " fill="none" stroke="#b8860b" stroke-width="1.0"/>
<text x="356.5" y="231.4" font-family="Liberation Mono, monospace" font-size="12.5" textLength="24" lengthAdjust="spacing">(d)</text>
<text transform="translate(65.50 178.2) scale(1.045 1)" text-anchor="middle" font-family="DejaVu Serif, Liberation Serif, serif" font-size="16.8" stroke="#000" stroke-width="0.25">0.5</text>
<text transform="translate(161.25 178.2) scale(1.045 1)" text-anchor="middle" font-family="DejaVu Serif, Liberation Serif, serif" font-size="16.8" stroke="#000" stroke-width="0.25">0.75</text>
<text transform="translate(257.00 178.2) scale(1.045 1)" text-anchor="middle" font-family="DejaVu Serif, Liberation Serif, serif" font-size="16.8" stroke="#000" stroke-width="0.25">1</text>
<text transform="translate(319.40 178.2) scale(1.045 1)" text-anchor="middle" font-family="DejaVu Serif, Liberation Serif, serif" font-size="16.8" stroke="#000" stroke-width="0.25">0.5</text>
<text transform="translate(414.95 178.2) scale(1.045 1)" text-anchor="middle" font-family="DejaVu Serif, Liberation Serif, serif" font-size="16.8" stroke="#000" stroke-width="0.25">0.75</text>
<text transform="translate(510.50 178.2) scale(1.045 1)" text-anchor="middle" font-family="DejaVu Serif, Liberation Serif, serif" font-size="16.8" stroke="#000" stroke-width="0.25">1</text>
<text transform="translate(65.50 372.2) scale(1.045 1)" text-anchor="middle" font-family="DejaVu Serif, Liberation Serif, serif" font-size="16.8" stroke="#000" stroke-width="0.25">0.5</text>
<text transform="translate(161.25 372.2) scale(1.045 1)" text-anchor="middle" font-family="DejaVu Serif, Liberation Serif, serif" font-size="16.8" stroke="#000" stroke-width="0.25">0.75</text>
<text transform="translate(257.00 372.2) scale(1.045 1)" text-anchor="middle" font-family="DejaVu Serif, Liberation Serif, serif" font-size="16.8" stroke="#000" stroke-width="0.25">1</text>
<text transform="translate(324.20 372.2) scale(1.045 1)" text-anchor="middle" font-family="DejaVu Serif, Liberation Serif, serif" font-size="16.8" stroke="#000" stroke-width="0.25">0.5</text>
<text transform="translate(416.85 372.2) scale(1.045 1)" text-anchor="middle" font-family="DejaVu Serif, Liberation Serif, serif" font-size="16.8" stroke="#000" stroke-width="0.25">0.75</text>
<text transform="translate(509.50 372.2) scale(1.045 1)" text-anchor="middle" font-family="DejaVu Serif, Liberation Serif, serif" font-size="16.8" stroke="#000" stroke-width="0.25">1</text>
<text transform="translate(55.5 161.20) scale(1.045 1)" text-anchor="end" font-family="DejaVu Serif, Liberation Serif, serif" font-size="16.8" stroke="#000" stroke-width="0.25">0</text>
<text transform="translate(55.5 92.95) scale(1.045 1)" text-anchor="end" font-family="DejaVu Serif, Liberation Serif, serif" font-size="16.8" stroke="#000" stroke-width="0.25">10</text>
<text transform="translate(55.5 24.70) scale(1.045 1)" text-anchor="end" font-family="DejaVu Serif, Liberation Serif, serif" font-size="16.8" stroke="#000" stroke-width="0.25">20</text>
<text transform="translate(309.4 161.20) scale(1.045 1)" text-anchor="end" font-family="DejaVu Serif, Liberation Serif, serif" font-size="16.8" stroke="#000" stroke-width="0.25">0</text>
<text transform="translate(309.4 92.95) scale(1.045 1)" text-anchor="end" font-family="DejaVu Serif, Liberation Serif, serif" font-size="16.8" stroke="#000" stroke-width="0.25">10</text>
<text transform="translate(309.4 24.70) scale(1.045 1)" text-anchor="end" font-family="DejaVu Serif, Liberation Serif, serif" font-size="16.8" stroke="#000" stroke-width="0.25">20</text>
<text transform="translate(55.5 355.20) scale(1.045 1)" text-anchor="end" font-family="DejaVu Serif, Liberation Serif, serif" font-size="16.8" stroke="#000" stroke-width="0.25">0</text>
<text transform="translate(55.5 286.95) scale(1.045 1)" text-anchor="end" font-family="DejaVu Serif, Liberation Serif, serif" font-size="16.8" stroke="#000" stroke-width="0.25">10</text>
<text transform="translate(55.5 218.70) scale(1.045 1)" text-anchor="end" font-family="DejaVu Serif, Liberation Serif, serif" font-size="16.8" stroke="#000" stroke-width="0.25">20</text>
<text transform="translate(314.2 352.50) scale(1.045 1)" text-anchor="end" font-family="DejaVu Serif, Liberation Serif, serif" font-size="16.8" stroke="#000" stroke-width="0.25">0</text>
<text transform="translate(314.2 285.60) scale(1.045 1)" text-anchor="end" font-family="DejaVu Serif, Liberation Serif, serif" font-size="16.8" stroke="#000" stroke-width="0.25">0.3</text>
<text transform="translate(314.2 218.70) scale(1.045 1)" text-anchor="end" font-family="DejaVu Serif, Liberation Serif, serif" font-size="16.8" stroke="#000" stroke-width="0.25">0.6</text>
<text x="160.8" y="195.9" text-anchor="middle" font-family="Liberation Serif, serif" font-style="italic" fill="#222" font-size="26" stroke="#fff" stroke-width="0.12">p</text>
<text x="414.4" y="195.9" text-anchor="middle" font-family="Liberation Serif, serif" font-style="italic" fill="#222" font-size="26" stroke="#fff" stroke-width="0.12">p</text>
<text x="160.8" y="389.9" text-anchor="middle" font-family="Liberation Serif, serif" font-style="italic" fill="#222" font-size="26" stroke="#fff" stroke-width="0.12">p</text>
<text x="416.4" y="389.9" text-anchor="middle" font-family="Liberation Serif, serif" font-style="italic" fill="#222" font-size="26" stroke="#fff" stroke-width="0.12">p</text>
<text transform="translate(33.1 89.5) rotate(-90)" text-anchor="middle" font-family="Liberation Serif, serif" font-style="italic" fill="#222" font-size="28.5" stroke="#fff" stroke-width="0.5">ε</text>
<text transform="translate(287.0 89.5) rotate(-90)" text-anchor="middle" font-family="Liberation Serif, serif" font-style="italic" fill="#222" font-size="28.5" stroke="#fff" stroke-width="0.5">ε</text>
<text transform="translate(33.1 283.6) rotate(-90)" text-anchor="middle" font-family="Liberation Serif, serif" font-style="italic" fill="#222" font-size="28.5" stroke="#fff" stroke-width="0.5">ε</text>
<text transform="translate(282.7 279.2) rotate(-90)" text-anchor="middle" font-family="Liberation Serif, serif" font-style="italic" fill="#222" font-size="21.5" stroke="#fff" stroke-width="0.35">K</text>
</svg>
</body></html>
